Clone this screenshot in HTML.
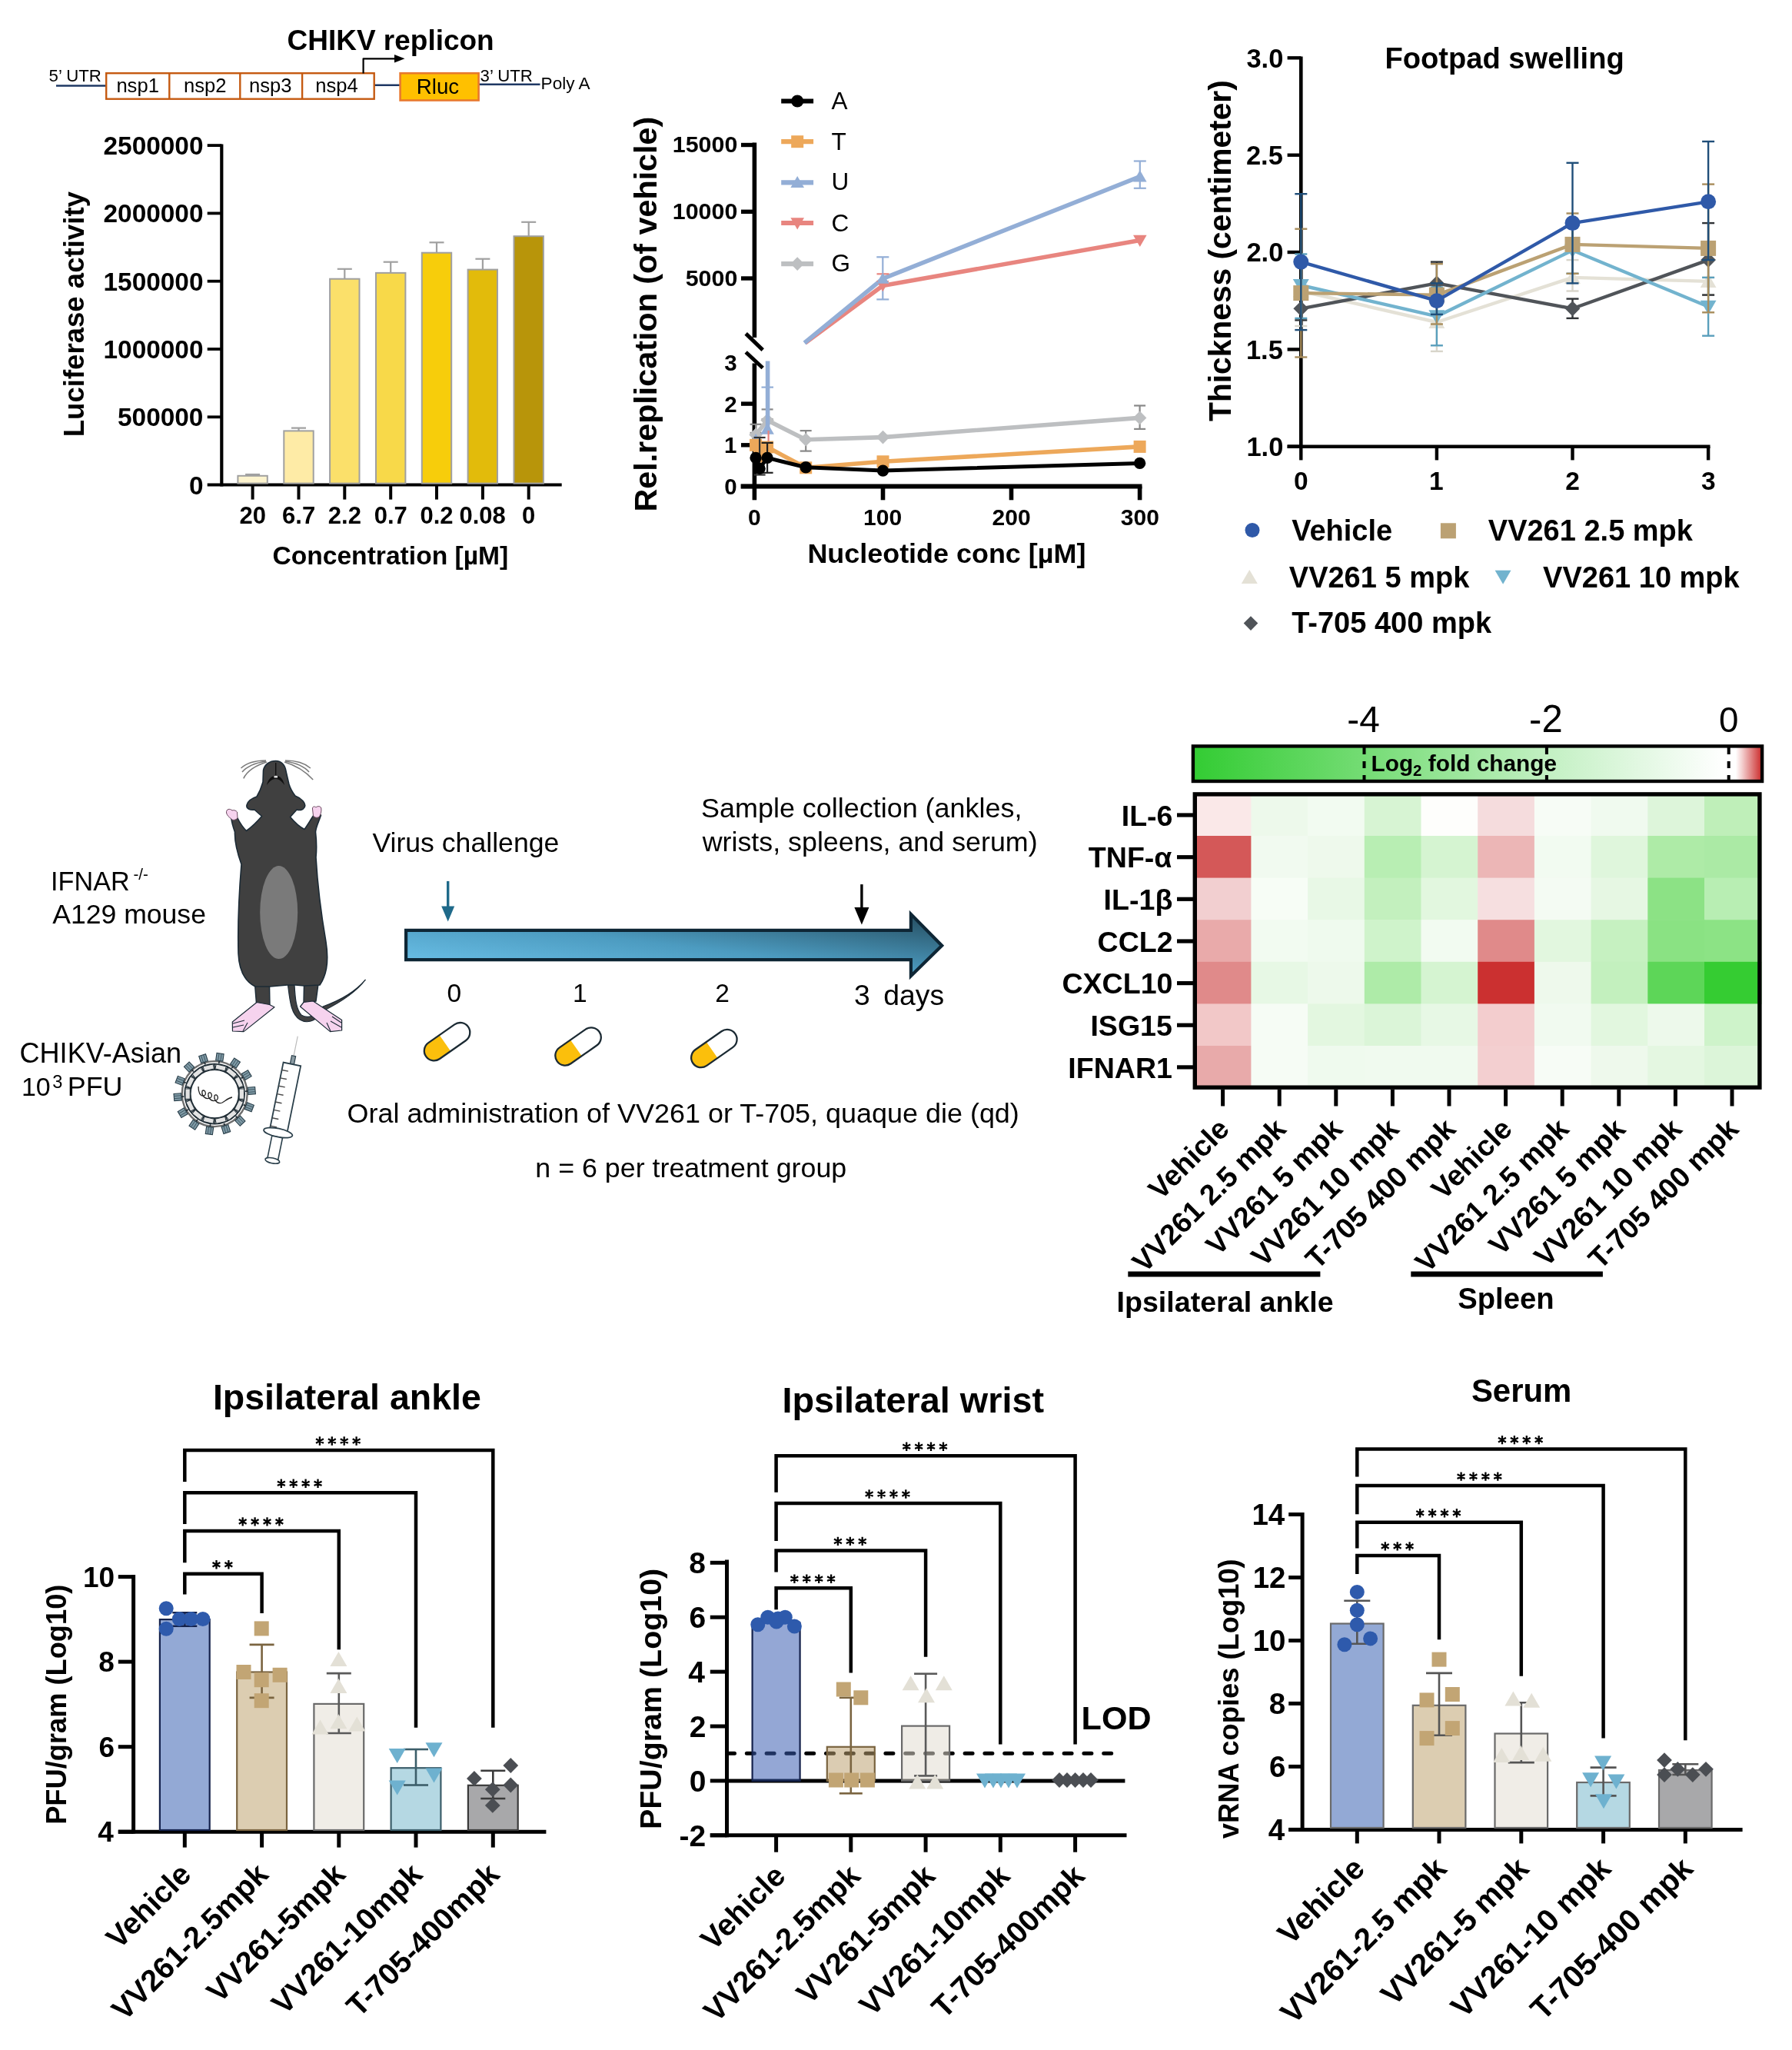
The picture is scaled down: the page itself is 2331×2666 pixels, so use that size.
<!DOCTYPE html>
<html><head><meta charset="utf-8"><title>Figure</title>
<style>
html,body{margin:0;padding:0;background:#fff;}
svg{display:block;will-change:transform;}
text{font-family:"Liberation Sans",sans-serif;}
</style></head><body>
<svg width="2331" height="2666" viewBox="0 0 2331 2666">
<rect width="2331" height="2666" fill="#fff"/>
<text x="373.5" y="64.5" font-size="36.99" font-weight="bold" fill="#000" >CHIKV replicon</text>
<line x1="73" y1="111.5" x2="139" y2="111.5" stroke="#1F3864" stroke-width="2.6" />
<line x1="487" y1="110.8" x2="521" y2="110.8" stroke="#1F3864" stroke-width="2.6" />
<line x1="622" y1="109.7" x2="702.5" y2="109.7" stroke="#1F3864" stroke-width="2.6" />
<rect x="138.2" y="95.2" width="348.5" height="33.5" fill="#fff" stroke="#C55A11" stroke-width="2.4" />
<line x1="220.3" y1="95.2" x2="220.3" y2="128.7" stroke="#C55A11" stroke-width="2.4" />
<line x1="312.3" y1="95.2" x2="312.3" y2="128.7" stroke="#C55A11" stroke-width="2.4" />
<line x1="393.1" y1="95.2" x2="393.1" y2="128.7" stroke="#C55A11" stroke-width="2.4" />
<text x="151.4" y="120.4" font-size="25.6" fill="#000" >nsp1</text>
<text x="239.1" y="120.4" font-size="25.6" fill="#000" >nsp2</text>
<text x="324" y="120.4" font-size="25.6" fill="#000" >nsp3</text>
<text x="410.2" y="120.4" font-size="25.6" fill="#000" >nsp4</text>
<rect x="520.6" y="95.2" width="102" height="35.3" fill="#FFC000" stroke="#E8792E" stroke-width="2.6" />
<text x="541.8" y="121.6" font-size="27.7" fill="#000" >Rluc</text>
<polyline points="472.6,95.5 472.6,76.3 515,76.3" fill="none" stroke="#000" stroke-width="2.2" stroke-linejoin="round" />
<polygon points="513,71 526.5,76.3 513,81.6" fill="#000" stroke="none" stroke-width="0" />
<text x="63.6" y="105.5" font-size="22.2" fill="#000" >5’ UTR</text>
<text x="624.6" y="105.5" font-size="22.2" fill="#000" >3’ UTR</text>
<text x="703.6" y="116.4" font-size="22.6" fill="#000" >Poly A</text>
<line x1="288.3" y1="187.5" x2="288.3" y2="632.5" stroke="#000" stroke-width="4.2" />
<line x1="269.7" y1="630.5" x2="730.7" y2="630.5" stroke="#000" stroke-width="3.9" />
<text x="245.9" y="642.5" font-size="33.4" font-weight="bold" fill="#000" >0</text>
<line x1="269.7" y1="542.3" x2="288.3" y2="542.3" stroke="#000" stroke-width="3.8" />
<text x="153" y="554.2" font-size="33.4" font-weight="bold" fill="#000" >500000</text>
<line x1="269.7" y1="454" x2="288.3" y2="454" stroke="#000" stroke-width="3.8" />
<text x="134.5" y="465.9" font-size="33.4" font-weight="bold" fill="#000" >1000000</text>
<line x1="269.7" y1="365.7" x2="288.3" y2="365.7" stroke="#000" stroke-width="3.8" />
<text x="134.5" y="377.6" font-size="33.4" font-weight="bold" fill="#000" >1500000</text>
<line x1="269.7" y1="277.4" x2="288.3" y2="277.4" stroke="#000" stroke-width="3.8" />
<text x="134.5" y="289.3" font-size="33.4" font-weight="bold" fill="#000" >2000000</text>
<line x1="269.7" y1="189.1" x2="288.3" y2="189.1" stroke="#000" stroke-width="3.8" />
<text x="134.5" y="201" font-size="33.4" font-weight="bold" fill="#000" >2500000</text>
<line x1="328.6" y1="617" x2="328.6" y2="618.8" stroke="#A0A0A0" stroke-width="2.2" />
<line x1="319.1" y1="617" x2="338.1" y2="617" stroke="#A0A0A0" stroke-width="2.2" />
<rect x="309.4" y="618.8" width="38.4" height="9.8" fill="#FDF4CE" stroke="#A0A0A0" stroke-width="2" />
<line x1="328.6" y1="630.5" x2="328.6" y2="649.6" stroke="#000" stroke-width="4" />
<text x="311.5" y="681.4" font-size="31" font-weight="bold" fill="#000" >20</text>
<line x1="388.5" y1="556.6" x2="388.5" y2="560.4" stroke="#A0A0A0" stroke-width="2.2" />
<line x1="379" y1="556.6" x2="398" y2="556.6" stroke="#A0A0A0" stroke-width="2.2" />
<rect x="369.3" y="560.4" width="38.4" height="68.2" fill="#FEEBA6" stroke="#A0A0A0" stroke-width="2" />
<line x1="388.5" y1="630.5" x2="388.5" y2="649.6" stroke="#000" stroke-width="4" />
<text x="367.1" y="681.4" font-size="31" font-weight="bold" fill="#000" >6.7</text>
<line x1="448.3" y1="349.8" x2="448.3" y2="362.7" stroke="#A0A0A0" stroke-width="2.2" />
<line x1="438.8" y1="349.8" x2="457.8" y2="349.8" stroke="#A0A0A0" stroke-width="2.2" />
<rect x="429.1" y="362.7" width="38.4" height="265.9" fill="#FBE06A" stroke="#A0A0A0" stroke-width="2" />
<line x1="448.3" y1="630.5" x2="448.3" y2="649.6" stroke="#000" stroke-width="4" />
<text x="426.8" y="681.4" font-size="31" font-weight="bold" fill="#000" >2.2</text>
<line x1="508.2" y1="340.7" x2="508.2" y2="354.9" stroke="#A0A0A0" stroke-width="2.2" />
<line x1="498.7" y1="340.7" x2="517.7" y2="340.7" stroke="#A0A0A0" stroke-width="2.2" />
<rect x="489" y="354.9" width="38.4" height="273.7" fill="#F8D949" stroke="#A0A0A0" stroke-width="2" />
<line x1="508.2" y1="630.5" x2="508.2" y2="649.6" stroke="#000" stroke-width="4" />
<text x="486.7" y="681.4" font-size="31" font-weight="bold" fill="#000" >0.7</text>
<line x1="568" y1="315.3" x2="568" y2="328.7" stroke="#A0A0A0" stroke-width="2.2" />
<line x1="558.5" y1="315.3" x2="577.5" y2="315.3" stroke="#A0A0A0" stroke-width="2.2" />
<rect x="548.8" y="328.7" width="38.4" height="299.9" fill="#F7CD0B" stroke="#A0A0A0" stroke-width="2" />
<line x1="568" y1="630.5" x2="568" y2="649.6" stroke="#000" stroke-width="4" />
<text x="546.5" y="681.4" font-size="31" font-weight="bold" fill="#000" >0.2</text>
<line x1="627.9" y1="336.7" x2="627.9" y2="350.6" stroke="#A0A0A0" stroke-width="2.2" />
<line x1="618.4" y1="336.7" x2="637.4" y2="336.7" stroke="#A0A0A0" stroke-width="2.2" />
<rect x="608.6" y="350.6" width="38.4" height="278" fill="#E2BB0B" stroke="#A0A0A0" stroke-width="2" />
<line x1="627.9" y1="630.5" x2="627.9" y2="649.6" stroke="#000" stroke-width="4" />
<text x="597.5" y="681.4" font-size="31" font-weight="bold" fill="#000" >0.08</text>
<line x1="687.7" y1="288.8" x2="687.7" y2="307.2" stroke="#A0A0A0" stroke-width="2.2" />
<line x1="678.2" y1="288.8" x2="697.2" y2="288.8" stroke="#A0A0A0" stroke-width="2.2" />
<rect x="668.5" y="307.2" width="38.4" height="321.4" fill="#B8950A" stroke="#A0A0A0" stroke-width="2" />
<line x1="687.7" y1="630.5" x2="687.7" y2="649.6" stroke="#000" stroke-width="4" />
<text x="679.1" y="681.4" font-size="31" font-weight="bold" fill="#000" >0</text>
<text x="354.4" y="734.2" font-size="33.61" font-weight="bold" fill="#000" >Concentration [µM]</text>
<text x="109" y="568.3" font-size="36.58" font-weight="bold" fill="#000" transform="rotate(-90 109 568.3)" >Luciferase activity</text>
<line x1="981.4" y1="185.5" x2="981.4" y2="439" stroke="#000" stroke-width="5.6" />
<line x1="981.4" y1="472.5" x2="981.4" y2="635" stroke="#000" stroke-width="5.6" />
<line x1="970.2" y1="433.9" x2="992.2" y2="455.1" stroke="#000" stroke-width="5" />
<line x1="970.2" y1="458" x2="992.2" y2="478.5" stroke="#000" stroke-width="5" />
<line x1="964" y1="188.5" x2="981.4" y2="188.5" stroke="#000" stroke-width="5.4" />
<text x="874.8" y="198.1" font-size="30.4" font-weight="bold" fill="#000" >15000</text>
<line x1="964" y1="275.3" x2="981.4" y2="275.3" stroke="#000" stroke-width="5.4" />
<text x="874.8" y="284.9" font-size="30.4" font-weight="bold" fill="#000" >10000</text>
<line x1="964" y1="362" x2="981.4" y2="362" stroke="#000" stroke-width="5.4" />
<text x="891.7" y="371.6" font-size="30.4" font-weight="bold" fill="#000" >5000</text>
<text x="942.2" y="481.8" font-size="29.5" font-weight="bold" fill="#000" >3</text>
<line x1="964" y1="525.1" x2="981.4" y2="525.1" stroke="#000" stroke-width="5.4" />
<text x="942.3" y="535.5" font-size="29.5" font-weight="bold" fill="#000" >2</text>
<line x1="964" y1="578.8" x2="981.4" y2="578.8" stroke="#000" stroke-width="5.4" />
<text x="941.9" y="589.2" font-size="29.5" font-weight="bold" fill="#000" >1</text>
<line x1="964" y1="632.5" x2="981.4" y2="632.5" stroke="#000" stroke-width="5.4" />
<text x="942.3" y="642.9" font-size="29.5" font-weight="bold" fill="#000" >0</text>
<line x1="963.6" y1="632.5" x2="1485.5" y2="632.5" stroke="#000" stroke-width="6" />
<line x1="981.4" y1="632.5" x2="981.4" y2="650.3" stroke="#000" stroke-width="5.6" />
<text x="973.1" y="682.7" font-size="30" font-weight="bold" fill="#000" >0</text>
<line x1="1148.5" y1="632.5" x2="1148.5" y2="650.3" stroke="#000" stroke-width="5.6" />
<text x="1123.1" y="682.7" font-size="30" font-weight="bold" fill="#000" >100</text>
<line x1="1315.5" y1="632.5" x2="1315.5" y2="650.3" stroke="#000" stroke-width="5.6" />
<text x="1290.6" y="682.7" font-size="30" font-weight="bold" fill="#000" >200</text>
<line x1="1482.6" y1="632.5" x2="1482.6" y2="650.3" stroke="#000" stroke-width="5.6" />
<text x="1457.8" y="682.7" font-size="30" font-weight="bold" fill="#000" >300</text>
<text x="1050.4" y="732.4" font-size="35.94" font-weight="bold" fill="#000" >Nucleotide conc [µM]</text>
<text x="853.6" y="665.6" font-size="41.29" font-weight="bold" fill="#000" transform="rotate(-90 853.6 665.6)" >Rel.replication (of vehicle)</text>
<line x1="1016.2" y1="131.5" x2="1058.1" y2="131.5" stroke="#000000" stroke-width="6.2" />
<circle cx="1037.2" cy="131.5" r="8" fill="#000000" stroke="none" stroke-width="0" />
<text x="1081.5" y="141.5" font-size="31.5" fill="#000" >A</text>
<line x1="1016.2" y1="184.2" x2="1058.1" y2="184.2" stroke="#EDA85A" stroke-width="6.2" />
<rect x="1029.2" y="176.2" width="16" height="16" fill="#EDA85A" stroke="none" stroke-width="0" />
<text x="1081.5" y="194.6" font-size="31.5" fill="#000" >T</text>
<line x1="1016.2" y1="237.3" x2="1058.1" y2="237.3" stroke="#93AED6" stroke-width="6.2" />
<polygon points="1037.2,228.9 1046,244.1 1028.4,244.1" fill="#93AED6" stroke="none" stroke-width="0" />
<text x="1081.5" y="247.3" font-size="31.5" fill="#000" >U</text>
<line x1="1016.2" y1="290" x2="1058.1" y2="290" stroke="#E8857F" stroke-width="6.2" />
<polygon points="1037.2,298.4 1046,283.2 1028.4,283.2" fill="#E8857F" stroke="none" stroke-width="0" />
<text x="1081.5" y="300.9" font-size="31.5" fill="#000" >C</text>
<line x1="1016.2" y1="343.1" x2="1058.1" y2="343.1" stroke="#BDBFC1" stroke-width="6.2" />
<polygon points="1037.2,334.3 1046,343.1 1037.2,351.9 1028.4,343.1" fill="#BDBFC1" stroke="none" stroke-width="0" />
<text x="1081.5" y="352.8" font-size="31.5" fill="#000" >G</text>
<polyline points="1047.4,446 1148.3,371.4 1482.8,312.6" fill="none" stroke="#E8857F" stroke-width="5.6" stroke-linejoin="round" />
<polyline points="1046.4,446 1148.3,362.3 1482.8,229.7" fill="none" stroke="#93AED6" stroke-width="5.6" stroke-linejoin="round" />
<line x1="1148.3" y1="334.3" x2="1148.3" y2="389.4" stroke="#93AED6" stroke-width="2.2" />
<line x1="1140.3" y1="334.3" x2="1156.3" y2="334.3" stroke="#93AED6" stroke-width="2.2" />
<line x1="1140.3" y1="389.4" x2="1156.3" y2="389.4" stroke="#93AED6" stroke-width="2.2" />
<line x1="1140.5" y1="356.3" x2="1156.5" y2="356.3" stroke="#E8857F" stroke-width="2.2" />
<line x1="1482.8" y1="209.5" x2="1482.8" y2="244.8" stroke="#93AED6" stroke-width="2.2" />
<line x1="1474.8" y1="209.5" x2="1490.8" y2="209.5" stroke="#93AED6" stroke-width="2.2" />
<line x1="1474.8" y1="244.8" x2="1490.8" y2="244.8" stroke="#93AED6" stroke-width="2.2" />
<polygon points="1148.3,379.3 1156.5,365 1140,365" fill="#E8857F" stroke="none" stroke-width="0" />
<polygon points="1148.3,354.4 1156.5,368.7 1140,368.7" fill="#93AED6" stroke="none" stroke-width="0" />
<polygon points="1482.8,321 1491.6,305.8 1474,305.8" fill="#E8857F" stroke="none" stroke-width="0" />
<polygon points="1482.8,221.3 1491.6,236.5 1474,236.5" fill="#93AED6" stroke="none" stroke-width="0" />
<line x1="983.1" y1="551.8" x2="983.1" y2="562.9" stroke="#888" stroke-width="2.2" />
<line x1="975.6" y1="551.8" x2="990.6" y2="551.8" stroke="#888" stroke-width="2.2" />
<line x1="975.6" y1="562.9" x2="990.6" y2="562.9" stroke="#888" stroke-width="2.2" />
<line x1="998.1" y1="532.4" x2="998.1" y2="545" stroke="#888" stroke-width="2.2" />
<line x1="990.6" y1="532.4" x2="1005.6" y2="532.4" stroke="#888" stroke-width="2.2" />
<line x1="990.6" y1="545" x2="1005.6" y2="545" stroke="#888" stroke-width="2.2" />
<line x1="1048.2" y1="560.1" x2="1048.2" y2="586.6" stroke="#888" stroke-width="2.2" />
<line x1="1040.7" y1="560.1" x2="1055.7" y2="560.1" stroke="#888" stroke-width="2.2" />
<line x1="1040.7" y1="586.6" x2="1055.7" y2="586.6" stroke="#888" stroke-width="2.2" />
<line x1="1482.6" y1="527.5" x2="1482.6" y2="557.9" stroke="#888" stroke-width="2.2" />
<line x1="1475.1" y1="527.5" x2="1490.1" y2="527.5" stroke="#888" stroke-width="2.2" />
<line x1="1475.1" y1="557.9" x2="1490.1" y2="557.9" stroke="#888" stroke-width="2.2" />
<polyline points="983.1,565.4 998.1,546.6 1048.2,571.8 1148.5,568.6 1482.6,543.4" fill="none" stroke="#BDBFC1" stroke-width="5.6" stroke-linejoin="round" />
<polygon points="983.1,556.6 991.9,565.4 983.1,574.2 974.3,565.4" fill="#BDBFC1" stroke="none" stroke-width="0" />
<polygon points="998.1,537.8 1006.9,546.6 998.1,555.4 989.3,546.6" fill="#BDBFC1" stroke="none" stroke-width="0" />
<polygon points="1048.2,563 1057,571.8 1048.2,580.6 1039.4,571.8" fill="#BDBFC1" stroke="none" stroke-width="0" />
<polygon points="1148.5,559.8 1157.3,568.6 1148.5,577.4 1139.7,568.6" fill="#BDBFC1" stroke="none" stroke-width="0" />
<polygon points="1482.6,534.6 1491.4,543.4 1482.6,552.2 1473.8,543.4" fill="#BDBFC1" stroke="none" stroke-width="0" />
<line x1="998.6" y1="469.5" x2="998.6" y2="558" stroke="#93AED6" stroke-width="5.6" />
<line x1="990.5" y1="503.6" x2="1006" y2="503.6" stroke="#93AED6" stroke-width="2.2" />
<polygon points="998.1,549.5 1006.9,564.7 989.3,564.7" fill="#93AED6" stroke="none" stroke-width="0" />
<polygon points="983.1,564.1 991.3,578.4 974.8,578.4" fill="#93AED6" stroke="none" stroke-width="0" />
<line x1="999.6" y1="560" x2="999.6" y2="600" stroke="#E8857F" stroke-width="2.2" />
<polyline points="983.1,578.8 988.1,593.8 998.1,581.5 1048.2,608.3 1148.5,600.3 1482.6,580.9" fill="none" stroke="#EDA85A" stroke-width="5.6" stroke-linejoin="round" />
<rect x="975.1" y="570.8" width="16" height="16" fill="#EDA85A" stroke="none" stroke-width="0" />
<rect x="980.1" y="585.8" width="16" height="16" fill="#EDA85A" stroke="none" stroke-width="0" />
<rect x="990.1" y="573.5" width="16" height="16" fill="#EDA85A" stroke="none" stroke-width="0" />
<rect x="1040.2" y="600.3" width="16" height="16" fill="#EDA85A" stroke="none" stroke-width="0" />
<rect x="1140.5" y="592.3" width="16" height="16" fill="#EDA85A" stroke="none" stroke-width="0" />
<rect x="1474.6" y="572.9" width="16" height="16" fill="#EDA85A" stroke="none" stroke-width="0" />
<line x1="998.1" y1="575.9" x2="998.1" y2="614.8" stroke="#222" stroke-width="2.2" />
<line x1="990.6" y1="575.9" x2="1005.6" y2="575.9" stroke="#222" stroke-width="2.2" />
<line x1="990.6" y1="614.8" x2="1005.6" y2="614.8" stroke="#222" stroke-width="2.2" />
<line x1="988.1" y1="569" x2="988.1" y2="617.5" stroke="#333" stroke-width="2.2" />
<line x1="980.6" y1="569" x2="995.6" y2="569" stroke="#333" stroke-width="2.2" />
<line x1="980.6" y1="617.5" x2="995.6" y2="617.5" stroke="#333" stroke-width="2.2" />
<polyline points="983.1,595.4 988.1,609.4 998.1,595.4 1048.2,607.8 1148.5,612.1 1482.6,602.4" fill="none" stroke="#000" stroke-width="5" stroke-linejoin="round" />
<circle cx="983.1" cy="595.4" r="7.7" fill="#000" stroke="none" stroke-width="0" />
<circle cx="988.1" cy="609.4" r="7.7" fill="#000" stroke="none" stroke-width="0" />
<circle cx="998.1" cy="595.4" r="7.7" fill="#000" stroke="none" stroke-width="0" />
<circle cx="1048.2" cy="607.8" r="7.7" fill="#000" stroke="none" stroke-width="0" />
<circle cx="1148.5" cy="612.1" r="7.7" fill="#000" stroke="none" stroke-width="0" />
<circle cx="1482.6" cy="602.4" r="7.7" fill="#000" stroke="none" stroke-width="0" />
<line x1="1692.3" y1="73.5" x2="1692.3" y2="582.7" stroke="#000" stroke-width="4.6" />
<line x1="1674.6" y1="580.7" x2="2224.5" y2="580.7" stroke="#000" stroke-width="4.6" />
<line x1="1674.6" y1="580.7" x2="1692.3" y2="580.7" stroke="#000" stroke-width="4.4" />
<text x="1621.4" y="592.9" font-size="34.5" font-weight="bold" fill="#000" >1.0</text>
<line x1="1674.6" y1="454.4" x2="1692.3" y2="454.4" stroke="#000" stroke-width="4.4" />
<text x="1620.9" y="466.6" font-size="34.5" font-weight="bold" fill="#000" >1.5</text>
<line x1="1674.6" y1="328" x2="1692.3" y2="328" stroke="#000" stroke-width="4.4" />
<text x="1621.4" y="340.2" font-size="34.5" font-weight="bold" fill="#000" >2.0</text>
<line x1="1674.6" y1="201.7" x2="1692.3" y2="201.7" stroke="#000" stroke-width="4.4" />
<text x="1620.9" y="213.9" font-size="34.5" font-weight="bold" fill="#000" >2.5</text>
<line x1="1674.6" y1="75.3" x2="1692.3" y2="75.3" stroke="#000" stroke-width="4.4" />
<text x="1621.4" y="87.5" font-size="34.5" font-weight="bold" fill="#000" >3.0</text>
<line x1="1692.3" y1="580.7" x2="1692.3" y2="598.4" stroke="#000" stroke-width="4.4" />
<text x="1683" y="636.8" font-size="33.5" font-weight="bold" fill="#000" >0</text>
<line x1="1868.9" y1="580.7" x2="1868.9" y2="598.4" stroke="#000" stroke-width="4.4" />
<text x="1858.9" y="636.8" font-size="33.5" font-weight="bold" fill="#000" >1</text>
<line x1="2045.5" y1="580.7" x2="2045.5" y2="598.4" stroke="#000" stroke-width="4.4" />
<text x="2036.3" y="636.8" font-size="33.5" font-weight="bold" fill="#000" >2</text>
<line x1="2222.1" y1="580.7" x2="2222.1" y2="598.4" stroke="#000" stroke-width="4.4" />
<text x="2213" y="636.8" font-size="33.5" font-weight="bold" fill="#000" >3</text>
<text x="1801.5" y="89.4" font-size="38.12" font-weight="bold" fill="#000" >Footpad swelling</text>
<text x="1600.5" y="548" font-size="40.74" font-weight="bold" fill="#000" transform="rotate(-90 1600.5 548)" >Thickness (centimeter)</text>
<line x1="1692.3" y1="424" x2="1692.3" y2="335.6" stroke="#D8D5CA" stroke-width="2.4" />
<line x1="1684.3" y1="424" x2="1700.3" y2="424" stroke="#D8D5CA" stroke-width="2.4" />
<line x1="1684.3" y1="335.6" x2="1700.3" y2="335.6" stroke="#D8D5CA" stroke-width="2.4" />
<line x1="1868.9" y1="456.9" x2="1868.9" y2="381.1" stroke="#D8D5CA" stroke-width="2.4" />
<line x1="1860.9" y1="456.9" x2="1876.9" y2="456.9" stroke="#D8D5CA" stroke-width="2.4" />
<line x1="1860.9" y1="381.1" x2="1876.9" y2="381.1" stroke="#D8D5CA" stroke-width="2.4" />
<line x1="2045.5" y1="378.5" x2="2045.5" y2="338.1" stroke="#D8D5CA" stroke-width="2.4" />
<line x1="2037.5" y1="378.5" x2="2053.5" y2="378.5" stroke="#D8D5CA" stroke-width="2.4" />
<line x1="2037.5" y1="338.1" x2="2053.5" y2="338.1" stroke="#D8D5CA" stroke-width="2.4" />
<line x1="2222.1" y1="383.6" x2="2222.1" y2="360.9" stroke="#D8D5CA" stroke-width="2.4" />
<line x1="2214.1" y1="383.6" x2="2230.1" y2="383.6" stroke="#D8D5CA" stroke-width="2.4" />
<line x1="2214.1" y1="360.9" x2="2230.1" y2="360.9" stroke="#D8D5CA" stroke-width="2.4" />
<polyline points="1692.3,378.5 1868.9,419 2045.5,360.9 2222.1,365.9" fill="none" stroke="#E4E1D6" stroke-width="4.4" stroke-linejoin="round" />
<polygon points="1692.3,368.6 1702.8,386.6 1681.8,386.6" fill="#E4E1D6" stroke="none" stroke-width="0" />
<polygon points="1868.9,409 1879.3,427 1858.4,427" fill="#E4E1D6" stroke="none" stroke-width="0" />
<polygon points="2045.5,350.9 2055.9,368.9 2035,368.9" fill="#E4E1D6" stroke="none" stroke-width="0" />
<polygon points="2222.1,355.9 2232.5,374 2211.7,374" fill="#E4E1D6" stroke="none" stroke-width="0" />
<line x1="1692.3" y1="416.4" x2="1692.3" y2="386.1" stroke="#303336" stroke-width="2.4" />
<line x1="1684.3" y1="416.4" x2="1700.3" y2="416.4" stroke="#303336" stroke-width="2.4" />
<line x1="1684.3" y1="386.1" x2="1700.3" y2="386.1" stroke="#303336" stroke-width="2.4" />
<line x1="1868.9" y1="396.2" x2="1868.9" y2="340.6" stroke="#303336" stroke-width="2.4" />
<line x1="1860.9" y1="396.2" x2="1876.9" y2="396.2" stroke="#303336" stroke-width="2.4" />
<line x1="1860.9" y1="340.6" x2="1876.9" y2="340.6" stroke="#303336" stroke-width="2.4" />
<line x1="2045.5" y1="413.9" x2="2045.5" y2="388.6" stroke="#303336" stroke-width="2.4" />
<line x1="2037.5" y1="413.9" x2="2053.5" y2="413.9" stroke="#303336" stroke-width="2.4" />
<line x1="2037.5" y1="388.6" x2="2053.5" y2="388.6" stroke="#303336" stroke-width="2.4" />
<line x1="2222.1" y1="383.6" x2="2222.1" y2="290.1" stroke="#303336" stroke-width="2.4" />
<line x1="2214.1" y1="383.6" x2="2230.1" y2="383.6" stroke="#303336" stroke-width="2.4" />
<line x1="2214.1" y1="290.1" x2="2230.1" y2="290.1" stroke="#303336" stroke-width="2.4" />
<polyline points="1692.3,401.3 1868.9,368.4 2045.5,401.3 2222.1,338.1" fill="none" stroke="#505459" stroke-width="4.4" stroke-linejoin="round" />
<polygon points="1692.3,391.4 1702.2,401.3 1692.3,411.2 1682.4,401.3" fill="#505459" stroke="none" stroke-width="0" />
<polygon points="1868.9,358.5 1878.8,368.4 1868.9,378.3 1859,368.4" fill="#505459" stroke="none" stroke-width="0" />
<polygon points="2045.5,391.4 2055.4,401.3 2045.5,411.2 2035.6,401.3" fill="#505459" stroke="none" stroke-width="0" />
<polygon points="2222.1,328.2 2232,338.1 2222.1,348 2212.2,338.1" fill="#505459" stroke="none" stroke-width="0" />
<line x1="1692.3" y1="413.9" x2="1692.3" y2="330.5" stroke="#5A9FBC" stroke-width="2.4" />
<line x1="1684.3" y1="413.9" x2="1700.3" y2="413.9" stroke="#5A9FBC" stroke-width="2.4" />
<line x1="1684.3" y1="330.5" x2="1700.3" y2="330.5" stroke="#5A9FBC" stroke-width="2.4" />
<line x1="1868.9" y1="449.3" x2="1868.9" y2="373.5" stroke="#5A9FBC" stroke-width="2.4" />
<line x1="1860.9" y1="449.3" x2="1876.9" y2="449.3" stroke="#5A9FBC" stroke-width="2.4" />
<line x1="1860.9" y1="373.5" x2="1876.9" y2="373.5" stroke="#5A9FBC" stroke-width="2.4" />
<line x1="2045.5" y1="355.8" x2="2045.5" y2="295.1" stroke="#5A9FBC" stroke-width="2.4" />
<line x1="2037.5" y1="355.8" x2="2053.5" y2="355.8" stroke="#5A9FBC" stroke-width="2.4" />
<line x1="2037.5" y1="295.1" x2="2053.5" y2="295.1" stroke="#5A9FBC" stroke-width="2.4" />
<line x1="2222.1" y1="436.7" x2="2222.1" y2="360.9" stroke="#5A9FBC" stroke-width="2.4" />
<line x1="2214.1" y1="436.7" x2="2230.1" y2="436.7" stroke="#5A9FBC" stroke-width="2.4" />
<line x1="2214.1" y1="360.9" x2="2230.1" y2="360.9" stroke="#5A9FBC" stroke-width="2.4" />
<polyline points="1692.3,371 1868.9,411.4 2045.5,325.5 2222.1,398.8" fill="none" stroke="#72B3CE" stroke-width="4.4" stroke-linejoin="round" />
<polygon points="1692.3,380.9 1702.8,362.9 1681.8,362.9" fill="#72B3CE" stroke="none" stroke-width="0" />
<polygon points="1868.9,421.4 1879.3,403.3 1858.4,403.3" fill="#72B3CE" stroke="none" stroke-width="0" />
<polygon points="2045.5,335.4 2055.9,317.4 2035,317.4" fill="#72B3CE" stroke="none" stroke-width="0" />
<polygon points="2222.1,408.7 2232.5,390.7 2211.7,390.7" fill="#72B3CE" stroke="none" stroke-width="0" />
<line x1="1692.3" y1="464.5" x2="1692.3" y2="297.7" stroke="#A88D5C" stroke-width="2.4" />
<line x1="1684.3" y1="464.5" x2="1700.3" y2="464.5" stroke="#A88D5C" stroke-width="2.4" />
<line x1="1684.3" y1="297.7" x2="1700.3" y2="297.7" stroke="#A88D5C" stroke-width="2.4" />
<line x1="1868.9" y1="421.5" x2="1868.9" y2="343.2" stroke="#A88D5C" stroke-width="2.4" />
<line x1="1860.9" y1="421.5" x2="1876.9" y2="421.5" stroke="#A88D5C" stroke-width="2.4" />
<line x1="1860.9" y1="343.2" x2="1876.9" y2="343.2" stroke="#A88D5C" stroke-width="2.4" />
<line x1="2045.5" y1="355.8" x2="2045.5" y2="277.5" stroke="#A88D5C" stroke-width="2.4" />
<line x1="2037.5" y1="355.8" x2="2053.5" y2="355.8" stroke="#A88D5C" stroke-width="2.4" />
<line x1="2037.5" y1="277.5" x2="2053.5" y2="277.5" stroke="#A88D5C" stroke-width="2.4" />
<line x1="2222.1" y1="406.3" x2="2222.1" y2="239.6" stroke="#A88D5C" stroke-width="2.4" />
<line x1="2214.1" y1="406.3" x2="2230.1" y2="406.3" stroke="#A88D5C" stroke-width="2.4" />
<line x1="2214.1" y1="239.6" x2="2230.1" y2="239.6" stroke="#A88D5C" stroke-width="2.4" />
<polyline points="1692.3,381.1 1868.9,383.6 2045.5,317.9 2222.1,322.9" fill="none" stroke="#BBA173" stroke-width="4.4" stroke-linejoin="round" />
<rect x="1682.3" y="371.1" width="20" height="20" fill="#BBA173" stroke="none" stroke-width="0" />
<rect x="1858.9" y="373.6" width="20" height="20" fill="#BBA173" stroke="none" stroke-width="0" />
<rect x="2035.5" y="307.9" width="20" height="20" fill="#BBA173" stroke="none" stroke-width="0" />
<rect x="2212.1" y="312.9" width="20" height="20" fill="#BBA173" stroke="none" stroke-width="0" />
<line x1="1692.3" y1="429.1" x2="1692.3" y2="252.2" stroke="#1F4E79" stroke-width="2.4" />
<line x1="1684.3" y1="429.1" x2="1700.3" y2="429.1" stroke="#1F4E79" stroke-width="2.4" />
<line x1="1684.3" y1="252.2" x2="1700.3" y2="252.2" stroke="#1F4E79" stroke-width="2.4" />
<line x1="1868.9" y1="408.9" x2="1868.9" y2="368.4" stroke="#1F4E79" stroke-width="2.4" />
<line x1="1860.9" y1="408.9" x2="1876.9" y2="408.9" stroke="#1F4E79" stroke-width="2.4" />
<line x1="1860.9" y1="368.4" x2="1876.9" y2="368.4" stroke="#1F4E79" stroke-width="2.4" />
<line x1="2045.5" y1="368.4" x2="2045.5" y2="211.8" stroke="#1F4E79" stroke-width="2.4" />
<line x1="2037.5" y1="368.4" x2="2053.5" y2="368.4" stroke="#1F4E79" stroke-width="2.4" />
<line x1="2037.5" y1="211.8" x2="2053.5" y2="211.8" stroke="#1F4E79" stroke-width="2.4" />
<line x1="2222.1" y1="338.1" x2="2222.1" y2="184" stroke="#1F4E79" stroke-width="2.4" />
<line x1="2214.1" y1="338.1" x2="2230.1" y2="338.1" stroke="#1F4E79" stroke-width="2.4" />
<line x1="2214.1" y1="184" x2="2230.1" y2="184" stroke="#1F4E79" stroke-width="2.4" />
<polyline points="1692.3,340.6 1868.9,391.2 2045.5,290.1 2222.1,262.3" fill="none" stroke="#2F59A8" stroke-width="4.4" stroke-linejoin="round" />
<circle cx="1692.3" cy="340.6" r="10" fill="#2F59A8" stroke="none" stroke-width="0" />
<circle cx="1868.9" cy="391.2" r="10" fill="#2F59A8" stroke="none" stroke-width="0" />
<circle cx="2045.5" cy="290.1" r="10" fill="#2F59A8" stroke="none" stroke-width="0" />
<circle cx="2222.1" cy="262.3" r="10" fill="#2F59A8" stroke="none" stroke-width="0" />
<circle cx="1629" cy="689.5" r="9.5" fill="#2F59A8" stroke="none" stroke-width="0" />
<text x="1680.2" y="702.9" font-size="38" font-weight="bold" fill="#000" >Vehicle</text>
<rect x="1873.9" y="680.3" width="20" height="20" fill="#BBA173" stroke="none" stroke-width="0" />
<text x="1935.8" y="702.9" font-size="38" font-weight="bold" fill="#000" >VV261 2.5 mpk</text>
<polygon points="1625.3,741 1635.8,759.1 1614.8,759.1" fill="#E4E1D6" stroke="none" stroke-width="0" />
<text x="1676.8" y="763.6" font-size="38" font-weight="bold" fill="#000" >VV261 5 mpk</text>
<polygon points="1955.1,759.8 1965.5,741.7 1944.6,741.7" fill="#72B3CE" stroke="none" stroke-width="0" />
<text x="2007.1" y="763.6" font-size="38" font-weight="bold" fill="#000" >VV261 10 mpk</text>
<polygon points="1627,801.2 1636.3,810.6 1627,820 1617.7,810.6" fill="#505459" stroke="none" stroke-width="0" />
<text x="1680.2" y="823.2" font-size="38" font-weight="bold" fill="#000" >T-705 400 mpk</text>
<path d="M374.5,1281 C377,1300 378,1318 390,1326 C398,1331 410,1330 420,1315 C440,1305 462,1292 475.5,1274 C462,1290 440,1302 420,1309 C412,1322 400,1325 392,1320 C385,1312 384,1298 383,1281 Z" fill="#404040" stroke="#1B2A35" stroke-width="1.2"/>
<path d="M331.5,1280 L333.5,1305 L351,1307 L350.5,1280 Z" fill="#404040" stroke="#1B2A35" stroke-width="1.4"/>
<path d="M395.5,1280 L395,1304 L411,1302 L414,1280 Z" fill="#404040" stroke="#1B2A35" stroke-width="1.4"/>
<path d="M358.7,989.5 C366,989.5 371,995 372,1003 L376,1020 C378,1027 381,1031 384,1035 C392,1038 399,1045 396,1050 C394,1054 389,1054 386,1053 L377.5,1062.5 C383,1069 389,1075 396,1078.5 C400,1073 404,1066 407.5,1061 L417.5,1060 C415,1068 411,1075 410.5,1082 C412,1095 412,1105 411,1115 C413,1150 418,1190 424,1225 C428,1250 425,1268 416,1281 L396,1282 L384,1281 L374,1281 L351,1283 L332,1283 C318,1276 311,1262 310,1240 C309,1200 311,1160 314,1124 C309,1110 305,1095 305.5,1082 C303,1075 301.5,1070 301,1065 L309,1064 C312,1070 316,1076 320.5,1080.5 C328,1075 335,1068 340.5,1061.5 L331,1053 C326,1054 320,1052 321,1047 C322,1042 328,1038 334,1036 C337,1031 340,1024 342,1017 L342.5,1002 C344,994 351,989.5 358.7,989.5 Z" fill="#404040" stroke="#1B2A35" stroke-width="1.6" stroke-linejoin="round"/>
<ellipse cx="362.7" cy="1186.6" rx="24.5" ry="60.5" fill="#7A7A7A"/>
<path d="M358.7,992 L358.7,1008" stroke="#111" stroke-width="1.4"/>
<path d="M347,1021 C349,1012 354,1009 358.7,1009 C364,1009 368,1012 370,1021 C366,1015 362,1013 358.7,1013 C355,1013 351,1015 347,1021 Z" fill="#111"/>
<rect x="356.5" y="1009" width="4.5" height="2.5" fill="#ddd"/>
<path d="M346,989 C334,989 321,992 313.5,999" fill="none" stroke="#7A7A7A" stroke-width="1.5"/>
<path d="M346,990 C333,992 321,997 315,1004" fill="none" stroke="#7A7A7A" stroke-width="1.5"/>
<path d="M347,991 C333,995 321,1003 316.8,1012.4" fill="none" stroke="#7A7A7A" stroke-width="1.5"/>
<path d="M371,989 C383,989 396,992 403.9,999" fill="none" stroke="#7A7A7A" stroke-width="1.5"/>
<path d="M371,990 C384,992 396,997 402,1004" fill="none" stroke="#7A7A7A" stroke-width="1.5"/>
<path d="M370,991 C384,995 398,1004 407.2,1014" fill="none" stroke="#7A7A7A" stroke-width="1.5"/>
<path d="M294.5,1057 C294,1052 299,1051 302,1054 C304,1053 307,1054 308.5,1056 L309,1064 C306,1067 302,1067 301,1065 C298,1063 295,1060 294.5,1057 Z" fill="#F6D3EE" stroke="#6B4A60" stroke-width="1"/>
<path d="M406.5,1052 C406,1049 409,1048 411,1050 C413,1048 417,1048 417.8,1051 C418.5,1055 417,1060 415,1062.5 C412,1064 409,1063 407.5,1061 Z" fill="#F6D3EE" stroke="#6B4A60" stroke-width="1"/>
<path d="M334,1303.5 L350.5,1306.5 L357,1309.8 L317,1341.6 L302.5,1341 L302.3,1329 Z" fill="#F6D3EE" stroke="#1B2A35" stroke-width="1.2" stroke-linejoin="round"/>
<path d="M395,1303.5 L407,1301.8 L444.6,1326.4 L444.6,1340 L429.5,1341.6 L390.5,1309 Z" fill="#F6D3EE" stroke="#1B2A35" stroke-width="1.2" stroke-linejoin="round"/>
<path d="M303,1331 L318,1327" stroke="#1B2A35" stroke-width="1.1"/>
<path d="M303,1336 L317,1333" stroke="#1B2A35" stroke-width="1.1"/>
<path d="M316,1341 L322,1330" stroke="#1B2A35" stroke-width="1.1"/>
<path d="M444,1330 L432,1322" stroke="#1B2A35" stroke-width="1.1"/>
<path d="M444,1336 L430,1328" stroke="#1B2A35" stroke-width="1.1"/>
<path d="M430,1341 L425,1330" stroke="#1B2A35" stroke-width="1.1"/>
<text x="66.1" y="1157.5" font-size="34.2" fill="#000" >IFNAR</text>
<text x="173.5" y="1143.5" font-size="20.5" fill="#000" >-/-</text>
<text x="68.2" y="1200.5" font-size="35.6" fill="#000" >A129 mouse</text>
<text x="25.5" y="1381.9" font-size="36.1" fill="#000" >CHIKV-Asian</text>
<text x="27.9" y="1424.7" font-size="33.97" fill="#000" >10</text>
<text x="68.2" y="1414.9" font-size="23.62" fill="#000" >3</text>
<text x="87.7" y="1424.7" font-size="35.93" fill="#000" >PFU</text>
<circle cx="279.2" cy="1422.6" r="42.5" fill="none" stroke="#6E6E6E" stroke-width="2.4"/>
<circle cx="279.2" cy="1422.6" r="39.0" fill="none" stroke="#1E2B33" stroke-width="1.6"/>
<circle cx="279.2" cy="1422.6" r="31.5" fill="#fff" stroke="#1E2B33" stroke-width="1.8"/>
<rect x="-6.6" y="-38.2" width="13.2" height="6.2" fill="#E3E3E3" stroke="#1E2B33" stroke-width="0.9" transform="translate(279.2 1422.6) rotate(12.9)"/>
<line x1="0" y1="-31.5" x2="0" y2="-39" stroke="#1E2B33" stroke-width="1.6" transform="translate(279.2 1422.6) rotate(25.7)"/>
<rect x="-6.6" y="-38.2" width="13.2" height="6.2" fill="#E3E3E3" stroke="#1E2B33" stroke-width="0.9" transform="translate(279.2 1422.6) rotate(38.6)"/>
<line x1="0" y1="-31.5" x2="0" y2="-39" stroke="#1E2B33" stroke-width="1.6" transform="translate(279.2 1422.6) rotate(51.4)"/>
<rect x="-6.6" y="-38.2" width="13.2" height="6.2" fill="#E3E3E3" stroke="#1E2B33" stroke-width="0.9" transform="translate(279.2 1422.6) rotate(64.3)"/>
<line x1="0" y1="-31.5" x2="0" y2="-39" stroke="#1E2B33" stroke-width="1.6" transform="translate(279.2 1422.6) rotate(77.1)"/>
<rect x="-6.6" y="-38.2" width="13.2" height="6.2" fill="#E3E3E3" stroke="#1E2B33" stroke-width="0.9" transform="translate(279.2 1422.6) rotate(90)"/>
<line x1="0" y1="-31.5" x2="0" y2="-39" stroke="#1E2B33" stroke-width="1.6" transform="translate(279.2 1422.6) rotate(102.9)"/>
<rect x="-6.6" y="-38.2" width="13.2" height="6.2" fill="#E3E3E3" stroke="#1E2B33" stroke-width="0.9" transform="translate(279.2 1422.6) rotate(115.7)"/>
<line x1="0" y1="-31.5" x2="0" y2="-39" stroke="#1E2B33" stroke-width="1.6" transform="translate(279.2 1422.6) rotate(128.6)"/>
<rect x="-6.6" y="-38.2" width="13.2" height="6.2" fill="#E3E3E3" stroke="#1E2B33" stroke-width="0.9" transform="translate(279.2 1422.6) rotate(141.4)"/>
<line x1="0" y1="-31.5" x2="0" y2="-39" stroke="#1E2B33" stroke-width="1.6" transform="translate(279.2 1422.6) rotate(154.3)"/>
<rect x="-6.6" y="-38.2" width="13.2" height="6.2" fill="#E3E3E3" stroke="#1E2B33" stroke-width="0.9" transform="translate(279.2 1422.6) rotate(167.1)"/>
<line x1="0" y1="-31.5" x2="0" y2="-39" stroke="#1E2B33" stroke-width="1.6" transform="translate(279.2 1422.6) rotate(180)"/>
<rect x="-6.6" y="-38.2" width="13.2" height="6.2" fill="#E3E3E3" stroke="#1E2B33" stroke-width="0.9" transform="translate(279.2 1422.6) rotate(192.9)"/>
<line x1="0" y1="-31.5" x2="0" y2="-39" stroke="#1E2B33" stroke-width="1.6" transform="translate(279.2 1422.6) rotate(205.7)"/>
<rect x="-6.6" y="-38.2" width="13.2" height="6.2" fill="#E3E3E3" stroke="#1E2B33" stroke-width="0.9" transform="translate(279.2 1422.6) rotate(218.6)"/>
<line x1="0" y1="-31.5" x2="0" y2="-39" stroke="#1E2B33" stroke-width="1.6" transform="translate(279.2 1422.6) rotate(231.4)"/>
<rect x="-6.6" y="-38.2" width="13.2" height="6.2" fill="#E3E3E3" stroke="#1E2B33" stroke-width="0.9" transform="translate(279.2 1422.6) rotate(244.3)"/>
<line x1="0" y1="-31.5" x2="0" y2="-39" stroke="#1E2B33" stroke-width="1.6" transform="translate(279.2 1422.6) rotate(257.1)"/>
<rect x="-6.6" y="-38.2" width="13.2" height="6.2" fill="#E3E3E3" stroke="#1E2B33" stroke-width="0.9" transform="translate(279.2 1422.6) rotate(270)"/>
<line x1="0" y1="-31.5" x2="0" y2="-39" stroke="#1E2B33" stroke-width="1.6" transform="translate(279.2 1422.6) rotate(282.9)"/>
<rect x="-6.6" y="-38.2" width="13.2" height="6.2" fill="#E3E3E3" stroke="#1E2B33" stroke-width="0.9" transform="translate(279.2 1422.6) rotate(295.7)"/>
<line x1="0" y1="-31.5" x2="0" y2="-39" stroke="#1E2B33" stroke-width="1.6" transform="translate(279.2 1422.6) rotate(308.6)"/>
<rect x="-6.6" y="-38.2" width="13.2" height="6.2" fill="#E3E3E3" stroke="#1E2B33" stroke-width="0.9" transform="translate(279.2 1422.6) rotate(321.4)"/>
<line x1="0" y1="-31.5" x2="0" y2="-39" stroke="#1E2B33" stroke-width="1.6" transform="translate(279.2 1422.6) rotate(334.3)"/>
<rect x="-6.6" y="-38.2" width="13.2" height="6.2" fill="#E3E3E3" stroke="#1E2B33" stroke-width="0.9" transform="translate(279.2 1422.6) rotate(347.1)"/>
<line x1="0" y1="-31.5" x2="0" y2="-39" stroke="#1E2B33" stroke-width="1.6" transform="translate(279.2 1422.6) rotate(360)"/>
<g transform="translate(279.2 1422.6) rotate(8)"><line x1="0" y1="-40" x2="0" y2="-44" stroke="#1E2B33" stroke-width="1.6"/><rect x="-4.6" y="-53" width="9.2" height="9.5" fill="#7F9AA6" stroke="#2A3F4A" stroke-width="1.1"/><line x1="-1.6" y1="-52.5" x2="-1.6" y2="-44" stroke="#2A3F4A" stroke-width="0.7"/><line x1="1.6" y1="-52.5" x2="1.6" y2="-44" stroke="#2A3F4A" stroke-width="0.7"/></g>
<g transform="translate(279.2 1422.6) rotate(33.7)"><line x1="0" y1="-40" x2="0" y2="-44" stroke="#1E2B33" stroke-width="1.6"/><rect x="-4.6" y="-53" width="9.2" height="9.5" fill="#7F9AA6" stroke="#2A3F4A" stroke-width="1.1"/><line x1="-1.6" y1="-52.5" x2="-1.6" y2="-44" stroke="#2A3F4A" stroke-width="0.7"/><line x1="1.6" y1="-52.5" x2="1.6" y2="-44" stroke="#2A3F4A" stroke-width="0.7"/></g>
<g transform="translate(279.2 1422.6) rotate(59.4)"><line x1="0" y1="-40" x2="0" y2="-44" stroke="#1E2B33" stroke-width="1.6"/><rect x="-4.6" y="-53" width="9.2" height="9.5" fill="#7F9AA6" stroke="#2A3F4A" stroke-width="1.1"/><line x1="-1.6" y1="-52.5" x2="-1.6" y2="-44" stroke="#2A3F4A" stroke-width="0.7"/><line x1="1.6" y1="-52.5" x2="1.6" y2="-44" stroke="#2A3F4A" stroke-width="0.7"/></g>
<g transform="translate(279.2 1422.6) rotate(85.1)"><line x1="0" y1="-40" x2="0" y2="-44" stroke="#1E2B33" stroke-width="1.6"/><rect x="-4.6" y="-53" width="9.2" height="9.5" fill="#7F9AA6" stroke="#2A3F4A" stroke-width="1.1"/><line x1="-1.6" y1="-52.5" x2="-1.6" y2="-44" stroke="#2A3F4A" stroke-width="0.7"/><line x1="1.6" y1="-52.5" x2="1.6" y2="-44" stroke="#2A3F4A" stroke-width="0.7"/></g>
<g transform="translate(279.2 1422.6) rotate(110.9)"><line x1="0" y1="-40" x2="0" y2="-44" stroke="#1E2B33" stroke-width="1.6"/><rect x="-4.6" y="-53" width="9.2" height="9.5" fill="#7F9AA6" stroke="#2A3F4A" stroke-width="1.1"/><line x1="-1.6" y1="-52.5" x2="-1.6" y2="-44" stroke="#2A3F4A" stroke-width="0.7"/><line x1="1.6" y1="-52.5" x2="1.6" y2="-44" stroke="#2A3F4A" stroke-width="0.7"/></g>
<g transform="translate(279.2 1422.6) rotate(136.6)"><line x1="0" y1="-40" x2="0" y2="-44" stroke="#1E2B33" stroke-width="1.6"/><rect x="-4.6" y="-53" width="9.2" height="9.5" fill="#7F9AA6" stroke="#2A3F4A" stroke-width="1.1"/><line x1="-1.6" y1="-52.5" x2="-1.6" y2="-44" stroke="#2A3F4A" stroke-width="0.7"/><line x1="1.6" y1="-52.5" x2="1.6" y2="-44" stroke="#2A3F4A" stroke-width="0.7"/></g>
<g transform="translate(279.2 1422.6) rotate(162.3)"><line x1="0" y1="-40" x2="0" y2="-44" stroke="#1E2B33" stroke-width="1.6"/><rect x="-4.6" y="-53" width="9.2" height="9.5" fill="#7F9AA6" stroke="#2A3F4A" stroke-width="1.1"/><line x1="-1.6" y1="-52.5" x2="-1.6" y2="-44" stroke="#2A3F4A" stroke-width="0.7"/><line x1="1.6" y1="-52.5" x2="1.6" y2="-44" stroke="#2A3F4A" stroke-width="0.7"/></g>
<g transform="translate(279.2 1422.6) rotate(188)"><line x1="0" y1="-40" x2="0" y2="-44" stroke="#1E2B33" stroke-width="1.6"/><rect x="-4.6" y="-53" width="9.2" height="9.5" fill="#7F9AA6" stroke="#2A3F4A" stroke-width="1.1"/><line x1="-1.6" y1="-52.5" x2="-1.6" y2="-44" stroke="#2A3F4A" stroke-width="0.7"/><line x1="1.6" y1="-52.5" x2="1.6" y2="-44" stroke="#2A3F4A" stroke-width="0.7"/></g>
<g transform="translate(279.2 1422.6) rotate(213.7)"><line x1="0" y1="-40" x2="0" y2="-44" stroke="#1E2B33" stroke-width="1.6"/><rect x="-4.6" y="-53" width="9.2" height="9.5" fill="#7F9AA6" stroke="#2A3F4A" stroke-width="1.1"/><line x1="-1.6" y1="-52.5" x2="-1.6" y2="-44" stroke="#2A3F4A" stroke-width="0.7"/><line x1="1.6" y1="-52.5" x2="1.6" y2="-44" stroke="#2A3F4A" stroke-width="0.7"/></g>
<g transform="translate(279.2 1422.6) rotate(239.4)"><line x1="0" y1="-40" x2="0" y2="-44" stroke="#1E2B33" stroke-width="1.6"/><rect x="-4.6" y="-53" width="9.2" height="9.5" fill="#7F9AA6" stroke="#2A3F4A" stroke-width="1.1"/><line x1="-1.6" y1="-52.5" x2="-1.6" y2="-44" stroke="#2A3F4A" stroke-width="0.7"/><line x1="1.6" y1="-52.5" x2="1.6" y2="-44" stroke="#2A3F4A" stroke-width="0.7"/></g>
<g transform="translate(279.2 1422.6) rotate(265.1)"><line x1="0" y1="-40" x2="0" y2="-44" stroke="#1E2B33" stroke-width="1.6"/><rect x="-4.6" y="-53" width="9.2" height="9.5" fill="#7F9AA6" stroke="#2A3F4A" stroke-width="1.1"/><line x1="-1.6" y1="-52.5" x2="-1.6" y2="-44" stroke="#2A3F4A" stroke-width="0.7"/><line x1="1.6" y1="-52.5" x2="1.6" y2="-44" stroke="#2A3F4A" stroke-width="0.7"/></g>
<g transform="translate(279.2 1422.6) rotate(290.9)"><line x1="0" y1="-40" x2="0" y2="-44" stroke="#1E2B33" stroke-width="1.6"/><rect x="-4.6" y="-53" width="9.2" height="9.5" fill="#7F9AA6" stroke="#2A3F4A" stroke-width="1.1"/><line x1="-1.6" y1="-52.5" x2="-1.6" y2="-44" stroke="#2A3F4A" stroke-width="0.7"/><line x1="1.6" y1="-52.5" x2="1.6" y2="-44" stroke="#2A3F4A" stroke-width="0.7"/></g>
<g transform="translate(279.2 1422.6) rotate(316.6)"><line x1="0" y1="-40" x2="0" y2="-44" stroke="#1E2B33" stroke-width="1.6"/><rect x="-4.6" y="-53" width="9.2" height="9.5" fill="#7F9AA6" stroke="#2A3F4A" stroke-width="1.1"/><line x1="-1.6" y1="-52.5" x2="-1.6" y2="-44" stroke="#2A3F4A" stroke-width="0.7"/><line x1="1.6" y1="-52.5" x2="1.6" y2="-44" stroke="#2A3F4A" stroke-width="0.7"/></g>
<g transform="translate(279.2 1422.6) rotate(342.3)"><line x1="0" y1="-40" x2="0" y2="-44" stroke="#1E2B33" stroke-width="1.6"/><rect x="-4.6" y="-53" width="9.2" height="9.5" fill="#7F9AA6" stroke="#2A3F4A" stroke-width="1.1"/><line x1="-1.6" y1="-52.5" x2="-1.6" y2="-44" stroke="#2A3F4A" stroke-width="0.7"/><line x1="1.6" y1="-52.5" x2="1.6" y2="-44" stroke="#2A3F4A" stroke-width="0.7"/></g>
<path d="M258,1413 C258,1420 260,1426 265,1425 C270,1424 266,1415 263,1419 C262,1426 268,1430 273,1428 C278,1426 274,1418 271,1422 C270,1429 276,1433 281,1431 C286,1429 282,1421 279,1425 C278,1432 284,1436 289,1434 C293,1432 296,1428 302,1427" fill="none" stroke="#222" stroke-width="1.3"/>
<g transform="translate(370.5 1430) rotate(11.5)"><line x1="0" y1="-84" x2="0" y2="-58" stroke="#BBBBBB" stroke-width="1.2"/><rect x="-2.6" y="-58" width="5.2" height="11" fill="#8A9AA2" stroke="#2A3F4A" stroke-width="1.2"/><rect x="-11.5" y="-47" width="23" height="88" fill="#fff" stroke="#2A3F4A" stroke-width="1.8"/><g stroke="#4A4A4A" stroke-width="1.4"><line x1="-11.5" y1="-37" x2="-3" y2="-37"/><line x1="-11.5" y1="-26.4" x2="-3" y2="-26.4"/><line x1="-11.5" y1="-15.8" x2="-3" y2="-15.8"/><line x1="-11.5" y1="-5.2" x2="-3" y2="-5.2"/><line x1="-11.5" y1="5.4" x2="-3" y2="5.4"/><line x1="-11.5" y1="16" x2="-3" y2="16"/><line x1="-11.5" y1="26.6" x2="-3" y2="26.6"/><line x1="-11.5" y1="37.2" x2="-3" y2="37.2"/></g><ellipse cx="0" cy="44" rx="19" ry="5.5" fill="#fff" stroke="#2A3F4A" stroke-width="1.8"/><rect x="-7" y="49.5" width="14" height="30" fill="#fff" stroke="#2A3F4A" stroke-width="1.6"/><ellipse cx="0" cy="81" rx="9.5" ry="3.5" fill="#fff" stroke="#2A3F4A" stroke-width="1.6"/></g>
<defs><linearGradient id="tlg" x1="0" y1="1" x2="1" y2="0"><stop offset="0" stop-color="#72C9F1"/><stop offset="0.5" stop-color="#4C9BC0"/><stop offset="1" stop-color="#234A5C"/></linearGradient></defs>
<polygon points="528.1,1209.9 1184.9,1209.9 1184.9,1188.9 1225.2,1229.8 1184.9,1269.2 1184.9,1248.2 528.1,1248.2" fill="url(#tlg)" stroke="#0E2635" stroke-width="4.2" stroke-linejoin="miter"/>
<line x1="582.7" y1="1145.9" x2="582.7" y2="1180" stroke="#1F6A8A" stroke-width="3.4" />
<polygon points="574.2,1178.5 591.2,1178.5 582.7,1198.6" fill="#1F6A8A" stroke="none" stroke-width="0" />
<line x1="1120.9" y1="1150.1" x2="1120.9" y2="1182" stroke="#000" stroke-width="3.4" />
<polygon points="1111.4,1180 1130.4,1180 1120.9,1202.6" fill="#000" stroke="none" stroke-width="0" />
<text x="484.4" y="1108.1" font-size="35.64" fill="#000" >Virus challenge</text>
<text x="912.1" y="1063" font-size="35.94" fill="#000" >Sample collection (ankles,</text>
<text x="913.7" y="1106.6" font-size="35.82" fill="#000" >wrists, spleens, and serum)</text>
<text x="581.5" y="1303.3" font-size="33.5" fill="#000" >0</text>
<text x="745" y="1303.3" font-size="33.5" fill="#000" >1</text>
<text x="930.3" y="1303.3" font-size="33.5" fill="#000" >2</text>
<text x="1111" y="1307" font-size="37.23" fill="#000" >3</text>
<text x="1149.3" y="1307" font-size="37.35" fill="#000" >days</text>
<g transform="translate(581.6 1354.7) rotate(-35)"><clipPath id="pc581"><rect x="-33.5" y="-12.8" width="67" height="25.5" rx="12.8"/></clipPath><rect x="-33.5" y="-12.8" width="67" height="25.5" rx="12.8" fill="#fff"/><rect x="-33.5" y="-12.8" width="30.2" height="25.5" fill="#FBBF0C" clip-path="url(#pc581)"/><rect x="-33.5" y="-12.8" width="67" height="25.5" rx="12.8" fill="none" stroke="#1B2A33" stroke-width="2.3"/></g>
<g transform="translate(752.1 1361) rotate(-35)"><clipPath id="pc752"><rect x="-33.5" y="-12.8" width="67" height="25.5" rx="12.8"/></clipPath><rect x="-33.5" y="-12.8" width="67" height="25.5" rx="12.8" fill="#fff"/><rect x="-33.5" y="-12.8" width="30.2" height="25.5" fill="#FBBF0C" clip-path="url(#pc752)"/><rect x="-33.5" y="-12.8" width="67" height="25.5" rx="12.8" fill="none" stroke="#1B2A33" stroke-width="2.3"/></g>
<g transform="translate(928.9 1363.6) rotate(-35)"><clipPath id="pc928"><rect x="-33.5" y="-12.8" width="67" height="25.5" rx="12.8"/></clipPath><rect x="-33.5" y="-12.8" width="67" height="25.5" rx="12.8" fill="#fff"/><rect x="-33.5" y="-12.8" width="30.2" height="25.5" fill="#FBBF0C" clip-path="url(#pc928)"/><rect x="-33.5" y="-12.8" width="67" height="25.5" rx="12.8" fill="none" stroke="#1B2A33" stroke-width="2.3"/></g>
<text x="451.5" y="1459.6" font-size="35.95" fill="#000" >Oral administration of VV261 or T-705, quaque die (qd)</text>
<text x="696.3" y="1531.4" font-size="35.81" fill="#000" >n = 6 per treatment group</text>
<defs><linearGradient id="cbg" x1="1552.7" y1="0" x2="2291" y2="0" gradientUnits="userSpaceOnUse"><stop offset="0" stop-color="#33CC33"/><stop offset="0.30" stop-color="#74DC74"/><stop offset="0.62" stop-color="#C2F0C2"/><stop offset="0.935" stop-color="#FFFFFF"/><stop offset="0.955" stop-color="#FFFFFF"/><stop offset="0.965" stop-color="#F5D5D5"/><stop offset="1" stop-color="#CC3030"/></linearGradient></defs>
<rect x="1551.9" y="970.4" width="740.2" height="45.6" fill="url(#cbg)" stroke="#000" stroke-width="4.4" />
<line x1="1774.5" y1="972" x2="1774.5" y2="1014" stroke="#000" stroke-width="4" stroke-dasharray="9 9"/>
<line x1="2011.9" y1="972" x2="2011.9" y2="1014" stroke="#000" stroke-width="4" stroke-dasharray="9 9"/>
<line x1="2248.7" y1="972" x2="2248.7" y2="1014" stroke="#000" stroke-width="4" stroke-dasharray="9 9"/>
<text x="1752.3" y="951.5" font-size="47.85" fill="#000" >-4</text>
<text x="1989.1" y="951.5" font-size="49.06" fill="#000" >-2</text>
<text x="2236" y="951.5" font-size="45.68" fill="#000" >0</text>
<text x="1783.5" y="1003" font-size="29.8" font-weight="bold">Log<tspan font-size="20.5" dy="6">2</tspan><tspan dy="-6"> fold change</tspan></text>
<rect x="1553.7" y="1032.4" width="74.3" height="55.2" fill="#FAE8E8"/>
<rect x="1627.4" y="1032.4" width="74.3" height="55.2" fill="#EDF9EB"/>
<rect x="1701.1" y="1032.4" width="74.3" height="55.2" fill="#F2FBF1"/>
<rect x="1774.8" y="1032.4" width="74.3" height="55.2" fill="#D7F4D3"/>
<rect x="1848.5" y="1032.4" width="74.3" height="55.2" fill="#FEFEFC"/>
<rect x="1922.2" y="1032.4" width="74.3" height="55.2" fill="#F5DCDD"/>
<rect x="1995.9" y="1032.4" width="74.3" height="55.2" fill="#F7FCF6"/>
<rect x="2069.6" y="1032.4" width="74.3" height="55.2" fill="#F0FAEF"/>
<rect x="2143.3" y="1032.4" width="74.3" height="55.2" fill="#DDF5DA"/>
<rect x="2217" y="1032.4" width="74.3" height="55.2" fill="#BFEFB9"/>
<rect x="1553.7" y="1087" width="74.3" height="55.2" fill="#D45858"/>
<rect x="1627.4" y="1087" width="74.3" height="55.2" fill="#F1FAF0"/>
<rect x="1701.1" y="1087" width="74.3" height="55.2" fill="#EEF9EC"/>
<rect x="1774.8" y="1087" width="74.3" height="55.2" fill="#B8EEB3"/>
<rect x="1848.5" y="1087" width="74.3" height="55.2" fill="#D5F4D1"/>
<rect x="1922.2" y="1087" width="74.3" height="55.2" fill="#ECB6B6"/>
<rect x="1995.9" y="1087" width="74.3" height="55.2" fill="#F2FBF1"/>
<rect x="2069.6" y="1087" width="74.3" height="55.2" fill="#DFF6DC"/>
<rect x="2143.3" y="1087" width="74.3" height="55.2" fill="#AEEBA7"/>
<rect x="2217" y="1087" width="74.3" height="55.2" fill="#ABEAA5"/>
<rect x="1553.7" y="1141.6" width="74.3" height="55.2" fill="#F2CFD0"/>
<rect x="1627.4" y="1141.6" width="74.3" height="55.2" fill="#F7FDF6"/>
<rect x="1701.1" y="1141.6" width="74.3" height="55.2" fill="#E8F8E6"/>
<rect x="1774.8" y="1141.6" width="74.3" height="55.2" fill="#C3F0BE"/>
<rect x="1848.5" y="1141.6" width="74.3" height="55.2" fill="#E2F7DF"/>
<rect x="1922.2" y="1141.6" width="74.3" height="55.2" fill="#F6DFE0"/>
<rect x="1995.9" y="1141.6" width="74.3" height="55.2" fill="#F4FBF3"/>
<rect x="2069.6" y="1141.6" width="74.3" height="55.2" fill="#E6F7E3"/>
<rect x="2143.3" y="1141.6" width="74.3" height="55.2" fill="#8CE285"/>
<rect x="2217" y="1141.6" width="74.3" height="55.2" fill="#B8EEB3"/>
<rect x="1553.7" y="1196.2" width="74.3" height="55.2" fill="#E9AAAA"/>
<rect x="1627.4" y="1196.2" width="74.3" height="55.2" fill="#F2FBF1"/>
<rect x="1701.1" y="1196.2" width="74.3" height="55.2" fill="#EFFAEE"/>
<rect x="1774.8" y="1196.2" width="74.3" height="55.2" fill="#CFF3CB"/>
<rect x="1848.5" y="1196.2" width="74.3" height="55.2" fill="#F2FBF1"/>
<rect x="1922.2" y="1196.2" width="74.3" height="55.2" fill="#E08A8A"/>
<rect x="1995.9" y="1196.2" width="74.3" height="55.2" fill="#E2F7DF"/>
<rect x="2069.6" y="1196.2" width="74.3" height="55.2" fill="#C6F1C1"/>
<rect x="2143.3" y="1196.2" width="74.3" height="55.2" fill="#8AE283"/>
<rect x="2217" y="1196.2" width="74.3" height="55.2" fill="#8CE385"/>
<rect x="1553.7" y="1250.8" width="74.3" height="55.2" fill="#E08A8A"/>
<rect x="1627.4" y="1250.8" width="74.3" height="55.2" fill="#E7F8E5"/>
<rect x="1701.1" y="1250.8" width="74.3" height="55.2" fill="#EDF9EB"/>
<rect x="1774.8" y="1250.8" width="74.3" height="55.2" fill="#AEEBA8"/>
<rect x="1848.5" y="1250.8" width="74.3" height="55.2" fill="#D5F4D1"/>
<rect x="1922.2" y="1250.8" width="74.3" height="55.2" fill="#CB3030"/>
<rect x="1995.9" y="1250.8" width="74.3" height="55.2" fill="#EEF9EC"/>
<rect x="2069.6" y="1250.8" width="74.3" height="55.2" fill="#C3F0BE"/>
<rect x="2143.3" y="1250.8" width="74.3" height="55.2" fill="#5DD658"/>
<rect x="2217" y="1250.8" width="74.3" height="55.2" fill="#35CC32"/>
<rect x="1553.7" y="1305.4" width="74.3" height="55.2" fill="#F2C8C8"/>
<rect x="1627.4" y="1305.4" width="74.3" height="55.2" fill="#F6FCF5"/>
<rect x="1701.1" y="1305.4" width="74.3" height="55.2" fill="#E3F7E0"/>
<rect x="1774.8" y="1305.4" width="74.3" height="55.2" fill="#DBF5D8"/>
<rect x="1848.5" y="1305.4" width="74.3" height="55.2" fill="#E7F8E5"/>
<rect x="1922.2" y="1305.4" width="74.3" height="55.2" fill="#F3CDCE"/>
<rect x="1995.9" y="1305.4" width="74.3" height="55.2" fill="#F1FAF0"/>
<rect x="2069.6" y="1305.4" width="74.3" height="55.2" fill="#E2F7DF"/>
<rect x="2143.3" y="1305.4" width="74.3" height="55.2" fill="#EDF9EB"/>
<rect x="2217" y="1305.4" width="74.3" height="55.2" fill="#CEF3CA"/>
<rect x="1553.7" y="1360" width="74.3" height="55.2" fill="#E8AAAA"/>
<rect x="1627.4" y="1360" width="74.3" height="55.2" fill="#F6FCF5"/>
<rect x="1701.1" y="1360" width="74.3" height="55.2" fill="#EFFAEE"/>
<rect x="1774.8" y="1360" width="74.3" height="55.2" fill="#F0FAEF"/>
<rect x="1848.5" y="1360" width="74.3" height="55.2" fill="#F0FAEF"/>
<rect x="1922.2" y="1360" width="74.3" height="55.2" fill="#F3CFD0"/>
<rect x="1995.9" y="1360" width="74.3" height="55.2" fill="#F7FCF6"/>
<rect x="2069.6" y="1360" width="74.3" height="55.2" fill="#EEF9EC"/>
<rect x="2143.3" y="1360" width="74.3" height="55.2" fill="#E4F7E1"/>
<rect x="2217" y="1360" width="74.3" height="55.2" fill="#DCF5D9"/>
<rect x="1554.3" y="1032.9" width="734.6" height="381.3" fill="none" stroke="#000" stroke-width="5.4" />
<line x1="1531" y1="1060" x2="1552" y2="1060" stroke="#000" stroke-width="5.2" />
<text x="1458.7" y="1073.6" font-size="37.6" font-weight="bold" fill="#000" >IL-6</text>
<line x1="1531" y1="1114.7" x2="1552" y2="1114.7" stroke="#000" stroke-width="5.2" />
<text x="1415.8" y="1128.2" font-size="37.6" font-weight="bold" fill="#000" >TNF-α</text>
<line x1="1531" y1="1169.3" x2="1552" y2="1169.3" stroke="#000" stroke-width="5.2" />
<text x="1435.6" y="1182.9" font-size="37.6" font-weight="bold" fill="#000" >IL-1β</text>
<line x1="1531" y1="1224" x2="1552" y2="1224" stroke="#000" stroke-width="5.2" />
<text x="1427.5" y="1237.5" font-size="37.6" font-weight="bold" fill="#000" >CCL2</text>
<line x1="1531" y1="1278.6" x2="1552" y2="1278.6" stroke="#000" stroke-width="5.2" />
<text x="1381.4" y="1292.2" font-size="37.6" font-weight="bold" fill="#000" >CXCL10</text>
<line x1="1531" y1="1333.2" x2="1552" y2="1333.2" stroke="#000" stroke-width="5.2" />
<text x="1418.4" y="1346.8" font-size="37.6" font-weight="bold" fill="#000" >ISG15</text>
<line x1="1531" y1="1387.9" x2="1552" y2="1387.9" stroke="#000" stroke-width="5.2" />
<text x="1389.3" y="1401.5" font-size="37.6" font-weight="bold" fill="#000" >IFNAR1</text>
<line x1="1590.6" y1="1417" x2="1590.6" y2="1438.5" stroke="#000" stroke-width="5" />
<text x="1601.1" y="1470.5" font-size="37.6" font-weight="bold" text-anchor="end" fill="#000" transform="rotate(-45 1601.1 1470.5)" >Vehicle</text>
<line x1="1664.2" y1="1417" x2="1664.2" y2="1438.5" stroke="#000" stroke-width="5" />
<text x="1674.7" y="1470.5" font-size="37.6" font-weight="bold" text-anchor="end" fill="#000" transform="rotate(-45 1674.7 1470.5)" >VV261 2.5 mpk</text>
<line x1="1737.8" y1="1417" x2="1737.8" y2="1438.5" stroke="#000" stroke-width="5" />
<text x="1748.3" y="1470.5" font-size="37.6" font-weight="bold" text-anchor="end" fill="#000" transform="rotate(-45 1748.3 1470.5)" >VV261 5 mpk</text>
<line x1="1811.4" y1="1417" x2="1811.4" y2="1438.5" stroke="#000" stroke-width="5" />
<text x="1821.9" y="1470.5" font-size="37.6" font-weight="bold" text-anchor="end" fill="#000" transform="rotate(-45 1821.9 1470.5)" >VV261 10 mpk</text>
<line x1="1885" y1="1417" x2="1885" y2="1438.5" stroke="#000" stroke-width="5" />
<text x="1895.5" y="1470.5" font-size="37.6" font-weight="bold" text-anchor="end" fill="#000" transform="rotate(-45 1895.5 1470.5)" >T-705 400 mpk</text>
<line x1="1958.6" y1="1417" x2="1958.6" y2="1438.5" stroke="#000" stroke-width="5" />
<text x="1969.1" y="1470.5" font-size="37.6" font-weight="bold" text-anchor="end" fill="#000" transform="rotate(-45 1969.1 1470.5)" >Vehicle</text>
<line x1="2032.2" y1="1417" x2="2032.2" y2="1438.5" stroke="#000" stroke-width="5" />
<text x="2042.7" y="1470.5" font-size="37.6" font-weight="bold" text-anchor="end" fill="#000" transform="rotate(-45 2042.7 1470.5)" >VV261 2.5 mpk</text>
<line x1="2105.8" y1="1417" x2="2105.8" y2="1438.5" stroke="#000" stroke-width="5" />
<text x="2116.3" y="1470.5" font-size="37.6" font-weight="bold" text-anchor="end" fill="#000" transform="rotate(-45 2116.3 1470.5)" >VV261 5 mpk</text>
<line x1="2179.4" y1="1417" x2="2179.4" y2="1438.5" stroke="#000" stroke-width="5" />
<text x="2189.9" y="1470.5" font-size="37.6" font-weight="bold" text-anchor="end" fill="#000" transform="rotate(-45 2189.9 1470.5)" >VV261 10 mpk</text>
<line x1="2253" y1="1417" x2="2253" y2="1438.5" stroke="#000" stroke-width="5" />
<text x="2263.5" y="1470.5" font-size="37.6" font-weight="bold" text-anchor="end" fill="#000" transform="rotate(-45 2263.5 1470.5)" >T-705 400 mpk</text>
<line x1="1467.3" y1="1657.1" x2="1717.4" y2="1657.1" stroke="#000" stroke-width="7" />
<line x1="1835.3" y1="1657.1" x2="2084.9" y2="1657.1" stroke="#000" stroke-width="7" />
<text x="1452.5" y="1705.8" font-size="37.61" font-weight="bold" fill="#000" >Ipsilateral ankle</text>
<text x="1896.3" y="1701.8" font-size="38.21" font-weight="bold" fill="#000" >Spleen</text>
<text x="276.9" y="1833" font-size="46.51" font-weight="bold" fill="#000" >Ipsilateral ankle</text>
<text x="85.6" y="2372.8" font-size="36.25" font-weight="bold" fill="#000" transform="rotate(-90 85.6 2372.8)" >PFU/gram (Log10)</text>
<line x1="173.6" y1="2048" x2="173.6" y2="2384.5" stroke="#000" stroke-width="5" />
<line x1="153.8" y1="2382.2" x2="173.6" y2="2382.2" stroke="#000" stroke-width="5" />
<text x="127.2" y="2395.3" font-size="37" font-weight="bold" fill="#000" >4</text>
<line x1="153.8" y1="2271.7" x2="173.6" y2="2271.7" stroke="#000" stroke-width="5" />
<text x="128.4" y="2284.8" font-size="37" font-weight="bold" fill="#000" >6</text>
<line x1="153.8" y1="2161.1" x2="173.6" y2="2161.1" stroke="#000" stroke-width="5" />
<text x="128.2" y="2174.3" font-size="37" font-weight="bold" fill="#000" >8</text>
<line x1="153.8" y1="2050.6" x2="173.6" y2="2050.6" stroke="#000" stroke-width="5" />
<text x="108" y="2063.7" font-size="37" font-weight="bold" fill="#000" >10</text>
<line x1="153.8" y1="2382.2" x2="710.4" y2="2382.2" stroke="#000" stroke-width="5" />
<rect x="207.9" y="2106.1" width="64.8" height="273.9" fill="#93A9D5" stroke="#14224C" stroke-width="2.2" />
<rect x="308.2" y="2174.5" width="64.8" height="205.5" fill="#DCCDB1" stroke="#7A6440" stroke-width="2.2" />
<rect x="408.4" y="2215.9" width="64.8" height="164.1" fill="#F0EDE7" stroke="#6A6A6A" stroke-width="2.2" />
<rect x="508.6" y="2299.2" width="64.8" height="80.8" fill="#B5D8E3" stroke="#3C5E6A" stroke-width="2.2" />
<rect x="608.9" y="2321.8" width="64.8" height="58.2" fill="#A8A8AA" stroke="#3A3A3A" stroke-width="2.2" />
<line x1="240.3" y1="2097.2" x2="240.3" y2="2114.7" stroke="#14224C" stroke-width="2.6" />
<line x1="224.3" y1="2097.2" x2="256.3" y2="2097.2" stroke="#14224C" stroke-width="2.6" />
<line x1="224.3" y1="2114.7" x2="256.3" y2="2114.7" stroke="#14224C" stroke-width="2.6" />
<line x1="240.3" y1="2382.2" x2="240.3" y2="2402.6" stroke="#000" stroke-width="5" />
<circle cx="216.2" cy="2091.8" r="9.5" fill="#2E5AAC" stroke="none" stroke-width="0" />
<circle cx="216.2" cy="2118.2" r="9.5" fill="#2E5AAC" stroke="none" stroke-width="0" />
<circle cx="233.3" cy="2105.5" r="9.5" fill="#2E5AAC" stroke="none" stroke-width="0" />
<circle cx="248.6" cy="2105.5" r="9.5" fill="#2E5AAC" stroke="none" stroke-width="0" />
<circle cx="263.9" cy="2105.5" r="9.5" fill="#2E5AAC" stroke="none" stroke-width="0" />
<line x1="340.6" y1="2138.9" x2="340.6" y2="2207.9" stroke="#7A6440" stroke-width="2.6" />
<line x1="324.6" y1="2138.9" x2="356.6" y2="2138.9" stroke="#7A6440" stroke-width="2.6" />
<line x1="324.6" y1="2207.9" x2="356.6" y2="2207.9" stroke="#7A6440" stroke-width="2.6" />
<line x1="340.6" y1="2382.2" x2="340.6" y2="2402.6" stroke="#000" stroke-width="5" />
<rect x="330.7" y="2108.4" width="19" height="19" fill="#C2A574" stroke="none" stroke-width="0" />
<rect x="307.5" y="2165" width="19" height="19" fill="#C2A574" stroke="none" stroke-width="0" />
<rect x="330.7" y="2175.2" width="19" height="19" fill="#C2A574" stroke="none" stroke-width="0" />
<rect x="354.6" y="2168.8" width="19" height="19" fill="#C2A574" stroke="none" stroke-width="0" />
<rect x="330.7" y="2202.2" width="19" height="19" fill="#C2A574" stroke="none" stroke-width="0" />
<line x1="440.8" y1="2176.1" x2="440.8" y2="2254" stroke="#5A5A5A" stroke-width="2.6" />
<line x1="424.8" y1="2176.1" x2="456.8" y2="2176.1" stroke="#5A5A5A" stroke-width="2.6" />
<line x1="424.8" y1="2254" x2="456.8" y2="2254" stroke="#5A5A5A" stroke-width="2.6" />
<line x1="440.8" y1="2382.2" x2="440.8" y2="2402.6" stroke="#000" stroke-width="5" />
<polygon points="440.4,2148.1 451.4,2167.1 429.4,2167.1" fill="#E3E0D6" stroke="none" stroke-width="0" />
<polygon points="440.4,2183.1 451.4,2202.1 429.4,2202.1" fill="#E3E0D6" stroke="none" stroke-width="0" />
<polygon points="416.5,2236.5 427.5,2255.5 405.5,2255.5" fill="#E3E0D6" stroke="none" stroke-width="0" />
<polygon points="440.4,2229.2 451.4,2248.2 429.4,2248.2" fill="#E3E0D6" stroke="none" stroke-width="0" />
<polygon points="464.3,2232.4 475.3,2251.4 453.3,2251.4" fill="#E3E0D6" stroke="none" stroke-width="0" />
<line x1="541" y1="2275" x2="541" y2="2321.5" stroke="#3C5E6A" stroke-width="2.6" />
<line x1="525" y1="2275" x2="557" y2="2275" stroke="#3C5E6A" stroke-width="2.6" />
<line x1="525" y1="2321.5" x2="557" y2="2321.5" stroke="#3C5E6A" stroke-width="2.6" />
<line x1="541" y1="2382.2" x2="541" y2="2402.6" stroke="#000" stroke-width="5" />
<polygon points="516.7,2293.1 527.7,2274.1 505.7,2274.1" fill="#6EB1CF" stroke="none" stroke-width="0" />
<polygon points="564.5,2285.2 575.5,2266.2 553.5,2266.2" fill="#6EB1CF" stroke="none" stroke-width="0" />
<polygon points="564.5,2318.6 575.5,2299.6 553.5,2299.6" fill="#6EB1CF" stroke="none" stroke-width="0" />
<polygon points="516.7,2334.5 527.7,2315.5 505.7,2315.5" fill="#6EB1CF" stroke="none" stroke-width="0" />
<line x1="641.3" y1="2302.7" x2="641.3" y2="2339" stroke="#3A3A3A" stroke-width="2.6" />
<line x1="625.3" y1="2302.7" x2="657.3" y2="2302.7" stroke="#3A3A3A" stroke-width="2.6" />
<line x1="625.3" y1="2339" x2="657.3" y2="2339" stroke="#3A3A3A" stroke-width="2.6" />
<line x1="641.3" y1="2382.2" x2="641.3" y2="2402.6" stroke="#000" stroke-width="5" />
<polygon points="616.9,2303 626.8,2312.9 616.9,2322.8 607,2312.9" fill="#4B4E53" stroke="none" stroke-width="0" />
<polygon points="664.3,2286.1 674.2,2296 664.3,2305.9 654.4,2296" fill="#4B4E53" stroke="none" stroke-width="0" />
<polygon points="664.3,2311.6 674.2,2321.5 664.3,2331.4 654.4,2321.5" fill="#4B4E53" stroke="none" stroke-width="0" />
<polygon points="640.8,2317.3 650.7,2327.2 640.8,2337.1 630.9,2327.2" fill="#4B4E53" stroke="none" stroke-width="0" />
<polygon points="640.8,2338 650.7,2347.9 640.8,2357.8 630.9,2347.9" fill="#4B4E53" stroke="none" stroke-width="0" />
<polyline points="240.3,2073.5 240.3,2046.7 340.6,2046.7 340.6,2098.1" fill="none" stroke="#000" stroke-width="4.5" stroke-linejoin="miter" stroke-linecap="butt"/>
<path d="M281.5,2029L281.5,2040.4M276.5,2031.9L286.4,2037.5M286.4,2031.9L276.5,2037.5M297.4,2029L297.4,2040.4M292.4,2031.9L302.3,2037.5M302.3,2031.9L292.4,2037.5" stroke="#000" stroke-width="2.3" fill="none"/>
<polyline points="240.3,2032.2 240.3,1990.9 440.8,1990.9 440.8,2145.2" fill="none" stroke="#000" stroke-width="4.5" stroke-linejoin="miter" stroke-linecap="butt"/>
<path d="M315.7,1973.2L315.7,1984.6M310.8,1976.1L320.6,1981.8M320.6,1976.1L310.8,1981.8M331.6,1973.2L331.6,1984.6M326.7,1976.1L336.5,1981.8M336.5,1976.1L326.7,1981.8M347.5,1973.2L347.5,1984.6M342.6,1976.1L352.4,1981.8M352.4,1976.1L342.6,1981.8M363.4,1973.2L363.4,1984.6M358.5,1976.1L368.3,1981.8M368.3,1976.1L358.5,1981.8" stroke="#000" stroke-width="2.3" fill="none"/>
<polyline points="240.3,1982 240.3,1941.2 541,1941.2 541,2246.7" fill="none" stroke="#000" stroke-width="4.5" stroke-linejoin="miter" stroke-linecap="butt"/>
<path d="M365.8,1923.5L365.8,1934.9M360.9,1926.4L370.8,1932M370.8,1926.4L360.9,1932M381.7,1923.5L381.7,1934.9M376.8,1926.4L386.7,1932M386.7,1926.4L376.8,1932M397.6,1923.5L397.6,1934.9M392.7,1926.4L402.6,1932M402.6,1926.4L392.7,1932M413.5,1923.5L413.5,1934.9M408.6,1926.4L418.5,1932M418.5,1926.4L408.6,1932" stroke="#000" stroke-width="2.3" fill="none"/>
<polyline points="240.3,1926.9 240.3,1886 641.3,1886 641.3,2246.7" fill="none" stroke="#000" stroke-width="4.5" stroke-linejoin="miter" stroke-linecap="butt"/>
<path d="M415.9,1868.3L415.9,1879.7M411,1871.2L420.9,1876.8M420.9,1871.2L411,1876.8M431.8,1868.3L431.8,1879.7M426.9,1871.2L436.8,1876.8M436.8,1871.2L426.9,1876.8M447.7,1868.3L447.7,1879.7M442.8,1871.2L452.7,1876.8M452.7,1871.2L442.8,1876.8M463.6,1868.3L463.6,1879.7M458.7,1871.2L468.6,1876.8M468.6,1871.2L458.7,1876.8" stroke="#000" stroke-width="2.3" fill="none"/>
<text x="250.8" y="2440" font-size="39.5" font-weight="bold" text-anchor="end" fill="#000" transform="rotate(-45 250.8 2440)" >Vehicle</text>
<text x="351.1" y="2440" font-size="39.5" font-weight="bold" text-anchor="end" fill="#000" transform="rotate(-45 351.1 2440)" >VV261-2.5mpk</text>
<text x="451.3" y="2440" font-size="39.5" font-weight="bold" text-anchor="end" fill="#000" transform="rotate(-45 451.3 2440)" >VV261-5mpk</text>
<text x="551.5" y="2440" font-size="39.5" font-weight="bold" text-anchor="end" fill="#000" transform="rotate(-45 551.5 2440)" >VV261-10mpk</text>
<text x="651.8" y="2440" font-size="39.5" font-weight="bold" text-anchor="end" fill="#000" transform="rotate(-45 651.8 2440)" >T-705-400mpk</text>
<text x="1017.4" y="1837" font-size="46.79" font-weight="bold" fill="#000" >Ipsilateral wrist</text>
<text x="859.5" y="2379" font-size="39.4" font-weight="bold" fill="#000" transform="rotate(-90 859.5 2379)" >PFU/gram (Log10)</text>
<line x1="945.5" y1="2028.5" x2="945.5" y2="2389.2" stroke="#000" stroke-width="5" />
<line x1="923.8" y1="2032.3" x2="945.5" y2="2032.3" stroke="#000" stroke-width="5" />
<text x="896.3" y="2046.1" font-size="39" font-weight="bold" fill="#000" >8</text>
<line x1="923.8" y1="2103.2" x2="945.5" y2="2103.2" stroke="#000" stroke-width="5" />
<text x="896.5" y="2117" font-size="39" font-weight="bold" fill="#000" >6</text>
<line x1="923.8" y1="2174.1" x2="945.5" y2="2174.1" stroke="#000" stroke-width="5" />
<text x="895.3" y="2187.9" font-size="39" font-weight="bold" fill="#000" >4</text>
<line x1="923.8" y1="2245" x2="945.5" y2="2245" stroke="#000" stroke-width="5" />
<text x="896.7" y="2258.8" font-size="39" font-weight="bold" fill="#000" >2</text>
<line x1="923.8" y1="2315.9" x2="945.5" y2="2315.9" stroke="#000" stroke-width="5" />
<text x="896.7" y="2329.7" font-size="39" font-weight="bold" fill="#000" >0</text>
<line x1="923.8" y1="2386.8" x2="945.5" y2="2386.8" stroke="#000" stroke-width="5" />
<text x="883.6" y="2400.6" font-size="39" font-weight="bold" fill="#000" >-2</text>
<line x1="923.8" y1="2386.7" x2="1465.5" y2="2386.7" stroke="#000" stroke-width="5" />
<line x1="945.5" y1="2315.9" x2="1463.4" y2="2315.9" stroke="#000" stroke-width="5" />
<line x1="945.5" y1="2280.3" x2="1452" y2="2280.3" stroke="#000" stroke-width="5" stroke-dasharray="10 15.8" stroke-linecap="round"/>
<rect x="978.6" y="2110.6" width="62" height="205.3" fill="#395DB2" stroke="#14224C" stroke-width="2.2" fill-opacity="0.54"/>
<rect x="1075.8" y="2271.8" width="62" height="44.1" fill="#BDA071" stroke="#7A6440" stroke-width="2.2" fill-opacity="0.54"/>
<rect x="1173.1" y="2244.6" width="62" height="71.3" fill="#E2DCD1" stroke="#6A6A6A" stroke-width="2.2" fill-opacity="0.54"/>
<text x="1406.6" y="2248.9" font-size="43.09" font-weight="bold" fill="#000" >LOD</text>
<line x1="1106.8" y1="2207.8" x2="1106.8" y2="2332.3" stroke="#7A6440" stroke-width="2.6" />
<line x1="1091.8" y1="2207.8" x2="1121.8" y2="2207.8" stroke="#7A6440" stroke-width="2.6" />
<line x1="1091.8" y1="2332.3" x2="1121.8" y2="2332.3" stroke="#7A6440" stroke-width="2.6" />
<line x1="1204.1" y1="2176.7" x2="1204.1" y2="2309.4" stroke="#5A5A5A" stroke-width="2.6" />
<line x1="1189.1" y1="2176.7" x2="1219.1" y2="2176.7" stroke="#5A5A5A" stroke-width="2.6" />
<line x1="1189.1" y1="2309.4" x2="1219.1" y2="2309.4" stroke="#5A5A5A" stroke-width="2.6" />
<circle cx="985.8" cy="2112.8" r="9.5" fill="#2E5AAC" stroke="none" stroke-width="0" />
<circle cx="998.8" cy="2103.3" r="9.5" fill="#2E5AAC" stroke="none" stroke-width="0" />
<circle cx="1011.8" cy="2105" r="9.5" fill="#2E5AAC" stroke="none" stroke-width="0" />
<circle cx="1021.3" cy="2103.3" r="9.5" fill="#2E5AAC" stroke="none" stroke-width="0" />
<circle cx="1033.4" cy="2115" r="9.5" fill="#2E5AAC" stroke="none" stroke-width="0" />
<circle cx="1010" cy="2109" r="9.5" fill="#2E5AAC" stroke="none" stroke-width="0" />
<rect x="1087.8" y="2187.5" width="19" height="19" fill="#C2A574" stroke="none" stroke-width="0" />
<rect x="1110.3" y="2198.3" width="19" height="19" fill="#C2A574" stroke="none" stroke-width="0" />
<rect x="1077.9" y="2305.5" width="19" height="19" fill="#C2A574" stroke="none" stroke-width="0" />
<rect x="1098.2" y="2305.5" width="19" height="19" fill="#C2A574" stroke="none" stroke-width="0" />
<rect x="1118.9" y="2305.5" width="19" height="19" fill="#C2A574" stroke="none" stroke-width="0" />
<polygon points="1184.6,2179.2 1195.6,2198.2 1173.6,2198.2" fill="#E3E0D6" stroke="none" stroke-width="0" />
<polygon points="1227.8,2179.2 1238.8,2198.2 1216.8,2198.2" fill="#E3E0D6" stroke="none" stroke-width="0" />
<polygon points="1205,2195.2 1216,2214.2 1194,2214.2" fill="#E3E0D6" stroke="none" stroke-width="0" />
<polygon points="1193.3,2307.5 1204.3,2326.5 1182.3,2326.5" fill="#E3E0D6" stroke="none" stroke-width="0" />
<polygon points="1216.2,2307.5 1227.2,2326.5 1205.2,2326.5" fill="#E3E0D6" stroke="none" stroke-width="0" />
<polygon points="1281,2325.5 1292,2306.5 1270,2306.5" fill="#6EB1CF" stroke="none" stroke-width="0" />
<polygon points="1292,2325.5 1303,2306.5 1281,2306.5" fill="#6EB1CF" stroke="none" stroke-width="0" />
<polygon points="1302,2325.5 1313,2306.5 1291,2306.5" fill="#6EB1CF" stroke="none" stroke-width="0" />
<polygon points="1312,2325.5 1323,2306.5 1301,2306.5" fill="#6EB1CF" stroke="none" stroke-width="0" />
<polygon points="1323,2325.5 1334,2306.5 1312,2306.5" fill="#6EB1CF" stroke="none" stroke-width="0" />
<polygon points="1378,2305.1 1387.9,2315 1378,2324.9 1368.1,2315" fill="#4B4E53" stroke="none" stroke-width="0" />
<polygon points="1388,2305.1 1397.9,2315 1388,2324.9 1378.1,2315" fill="#4B4E53" stroke="none" stroke-width="0" />
<polygon points="1398.6,2305.1 1408.5,2315 1398.6,2324.9 1388.7,2315" fill="#4B4E53" stroke="none" stroke-width="0" />
<polygon points="1409,2305.1 1418.9,2315 1409,2324.9 1399.1,2315" fill="#4B4E53" stroke="none" stroke-width="0" />
<polygon points="1419,2305.1 1428.9,2315 1419,2324.9 1409.1,2315" fill="#4B4E53" stroke="none" stroke-width="0" />
<line x1="1009.6" y1="2386.7" x2="1009.6" y2="2408.7" stroke="#000" stroke-width="5" />
<line x1="1106.8" y1="2386.7" x2="1106.8" y2="2408.7" stroke="#000" stroke-width="5" />
<line x1="1204.1" y1="2386.7" x2="1204.1" y2="2408.7" stroke="#000" stroke-width="5" />
<line x1="1301.3" y1="2386.7" x2="1301.3" y2="2408.7" stroke="#000" stroke-width="5" />
<line x1="1398.6" y1="2386.7" x2="1398.6" y2="2408.7" stroke="#000" stroke-width="5" />
<polyline points="1009.6,2093.3 1009.6,2065.2 1106.8,2065.2 1106.8,2175.4" fill="none" stroke="#000" stroke-width="4.5" stroke-linejoin="miter" stroke-linecap="butt"/>
<path d="M1033.4,2047.5L1033.4,2058.9M1028.4,2050.3L1038.3,2056M1038.3,2050.3L1028.4,2056M1049.3,2047.5L1049.3,2058.9M1044.3,2050.3L1054.2,2056M1054.2,2050.3L1044.3,2056M1065.2,2047.5L1065.2,2058.9M1060.2,2050.3L1070.1,2056M1070.1,2050.3L1060.2,2056M1081.1,2047.5L1081.1,2058.9M1076.1,2050.3L1086,2056M1086,2050.3L1076.1,2056" stroke="#000" stroke-width="2.3" fill="none"/>
<polyline points="1009.6,2044.5 1009.6,2016.4 1204.1,2016.4 1204.1,2154.7" fill="none" stroke="#000" stroke-width="4.5" stroke-linejoin="miter" stroke-linecap="butt"/>
<path d="M1089.9,1998.7L1089.9,2010.1M1085,2001.6L1094.9,2007.2M1094.9,2001.6L1085,2007.2M1105.8,1998.7L1105.8,2010.1M1100.9,2001.6L1110.8,2007.2M1110.8,2001.6L1100.9,2007.2M1121.7,1998.7L1121.7,2010.1M1116.8,2001.6L1126.7,2007.2M1126.7,2001.6L1116.8,2007.2" stroke="#000" stroke-width="2.3" fill="none"/>
<polyline points="1009.6,2003.9 1009.6,1955 1301.3,1955 1301.3,2268.4" fill="none" stroke="#000" stroke-width="4.5" stroke-linejoin="miter" stroke-linecap="butt"/>
<path d="M1130.6,1937.3L1130.6,1948.7M1125.7,1940.2L1135.6,1945.8M1135.6,1940.2L1125.7,1945.8M1146.5,1937.3L1146.5,1948.7M1141.6,1940.2L1151.5,1945.8M1151.5,1940.2L1141.6,1945.8M1162.4,1937.3L1162.4,1948.7M1157.5,1940.2L1167.4,1945.8M1167.4,1940.2L1157.5,1945.8M1178.3,1937.3L1178.3,1948.7M1173.4,1940.2L1183.3,1945.8M1183.3,1940.2L1173.4,1945.8" stroke="#000" stroke-width="2.3" fill="none"/>
<polyline points="1009.6,1940.8 1009.6,1893.2 1398.6,1893.2 1398.6,2268.4" fill="none" stroke="#000" stroke-width="4.5" stroke-linejoin="miter" stroke-linecap="butt"/>
<path d="M1179.2,1875.5L1179.2,1886.9M1174.3,1878.4L1184.2,1884M1184.2,1878.4L1174.3,1884M1195.2,1875.5L1195.2,1886.9M1190.2,1878.4L1200.1,1884M1200.1,1878.4L1190.2,1884M1211,1875.5L1211,1886.9M1206.1,1878.4L1216,1884M1216,1878.4L1206.1,1884M1227,1875.5L1227,1886.9M1222,1878.4L1231.9,1884M1231.9,1878.4L1222,1884" stroke="#000" stroke-width="2.3" fill="none"/>
<text x="1024.1" y="2442" font-size="39.5" font-weight="bold" text-anchor="end" fill="#000" transform="rotate(-45 1024.1 2442)" >Vehicle</text>
<text x="1121.3" y="2442" font-size="39.5" font-weight="bold" text-anchor="end" fill="#000" transform="rotate(-45 1121.3 2442)" >VV261-2.5mpk</text>
<text x="1218.6" y="2442" font-size="39.5" font-weight="bold" text-anchor="end" fill="#000" transform="rotate(-45 1218.6 2442)" >VV261-5mpk</text>
<text x="1315.8" y="2442" font-size="39.5" font-weight="bold" text-anchor="end" fill="#000" transform="rotate(-45 1315.8 2442)" >VV261-10mpk</text>
<text x="1413.1" y="2442" font-size="39.5" font-weight="bold" text-anchor="end" fill="#000" transform="rotate(-45 1413.1 2442)" >T-705-400mpk</text>
<text x="1913.9" y="1823.2" font-size="41.95" font-weight="bold" fill="#000" >Serum</text>
<text x="1610.9" y="2391.3" font-size="36.34" font-weight="bold" fill="#000" transform="rotate(-90 1610.9 2391.3)" >vRNA copies (Log10)</text>
<line x1="1694.1" y1="1967" x2="1694.1" y2="2381.6" stroke="#000" stroke-width="5" />
<line x1="1676.2" y1="2379.4" x2="1694.1" y2="2379.4" stroke="#000" stroke-width="5" />
<text x="1649.7" y="2393.1" font-size="38.5" font-weight="bold" fill="#000" >4</text>
<line x1="1676.2" y1="2297.4" x2="1694.1" y2="2297.4" stroke="#000" stroke-width="5" />
<text x="1650.9" y="2311.1" font-size="38.5" font-weight="bold" fill="#000" >6</text>
<line x1="1676.2" y1="2215.4" x2="1694.1" y2="2215.4" stroke="#000" stroke-width="5" />
<text x="1650.7" y="2229.1" font-size="38.5" font-weight="bold" fill="#000" >8</text>
<line x1="1676.2" y1="2133.5" x2="1694.1" y2="2133.5" stroke="#000" stroke-width="5" />
<text x="1629.7" y="2147.1" font-size="38.5" font-weight="bold" fill="#000" >10</text>
<line x1="1676.2" y1="2051.5" x2="1694.1" y2="2051.5" stroke="#000" stroke-width="5" />
<text x="1629.7" y="2065.1" font-size="38.5" font-weight="bold" fill="#000" >12</text>
<line x1="1676.2" y1="1969.5" x2="1694.1" y2="1969.5" stroke="#000" stroke-width="5" />
<text x="1628.4" y="1983.2" font-size="38.5" font-weight="bold" fill="#000" >14</text>
<line x1="1676.2" y1="2379.4" x2="2266.6" y2="2379.4" stroke="#000" stroke-width="5" />
<rect x="1731" y="2111.5" width="68.6" height="265.5" fill="#93A9D5" stroke="#6A6A6A" stroke-width="2.2" />
<rect x="1837.8" y="2217.8" width="68.6" height="159.2" fill="#DCCDB1" stroke="#6A6A6A" stroke-width="2.2" />
<rect x="1944.5" y="2254.5" width="68.6" height="122.5" fill="#F0EDE7" stroke="#6A6A6A" stroke-width="2.2" />
<rect x="2051.2" y="2318" width="68.6" height="59" fill="#B5D8E3" stroke="#6A6A6A" stroke-width="2.2" />
<rect x="2158" y="2302" width="68.6" height="75" fill="#A8A8AA" stroke="#6A6A6A" stroke-width="2.2" />
<line x1="1765.3" y1="2081.7" x2="1765.3" y2="2137.8" stroke="#555" stroke-width="2.6" />
<line x1="1748.3" y1="2081.7" x2="1782.3" y2="2081.7" stroke="#555" stroke-width="2.6" />
<line x1="1748.3" y1="2137.8" x2="1782.3" y2="2137.8" stroke="#555" stroke-width="2.6" />
<line x1="1765.3" y1="2379.4" x2="1765.3" y2="2397.4" stroke="#000" stroke-width="5" />
<circle cx="1765.3" cy="2070.4" r="9.5" fill="#2E5AAC" stroke="none" stroke-width="0" />
<circle cx="1765.3" cy="2094.2" r="9.5" fill="#2E5AAC" stroke="none" stroke-width="0" />
<circle cx="1765.3" cy="2112.8" r="9.5" fill="#2E5AAC" stroke="none" stroke-width="0" />
<circle cx="1748.9" cy="2138.7" r="9.5" fill="#2E5AAC" stroke="none" stroke-width="0" />
<circle cx="1782.6" cy="2130.9" r="9.5" fill="#2E5AAC" stroke="none" stroke-width="0" />
<line x1="1872" y1="2175.9" x2="1872" y2="2256.7" stroke="#555" stroke-width="2.6" />
<line x1="1855" y1="2175.9" x2="1889" y2="2175.9" stroke="#555" stroke-width="2.6" />
<line x1="1855" y1="2256.7" x2="1889" y2="2256.7" stroke="#555" stroke-width="2.6" />
<line x1="1872" y1="2379.4" x2="1872" y2="2397.4" stroke="#000" stroke-width="5" />
<rect x="1862.5" y="2148.6" width="19" height="19" fill="#C2A574" stroke="none" stroke-width="0" />
<rect x="1846.5" y="2201.4" width="19" height="19" fill="#C2A574" stroke="none" stroke-width="0" />
<rect x="1879.8" y="2194" width="19" height="19" fill="#C2A574" stroke="none" stroke-width="0" />
<rect x="1879.8" y="2238.1" width="19" height="19" fill="#C2A574" stroke="none" stroke-width="0" />
<rect x="1846.5" y="2251.1" width="19" height="19" fill="#C2A574" stroke="none" stroke-width="0" />
<line x1="1978.8" y1="2214.3" x2="1978.8" y2="2292.1" stroke="#555" stroke-width="2.6" />
<line x1="1961.8" y1="2214.3" x2="1995.8" y2="2214.3" stroke="#555" stroke-width="2.6" />
<line x1="1961.8" y1="2292.1" x2="1995.8" y2="2292.1" stroke="#555" stroke-width="2.6" />
<line x1="1978.8" y1="2379.4" x2="1978.8" y2="2397.4" stroke="#000" stroke-width="5" />
<polygon points="1968.4,2199.5 1979.4,2218.5 1957.4,2218.5" fill="#E3E0D6" stroke="none" stroke-width="0" />
<polygon points="1992.2,2201.7 2003.2,2220.7 1981.2,2220.7" fill="#E3E0D6" stroke="none" stroke-width="0" />
<polygon points="1953.3,2273 1964.3,2292 1942.3,2292" fill="#E3E0D6" stroke="none" stroke-width="0" />
<polygon points="1978.3,2270 1989.3,2289 1967.3,2289" fill="#E3E0D6" stroke="none" stroke-width="0" />
<polygon points="2007.3,2271.7 2018.3,2290.7 1996.3,2290.7" fill="#E3E0D6" stroke="none" stroke-width="0" />
<line x1="2085.6" y1="2298.6" x2="2085.6" y2="2335.4" stroke="#555" stroke-width="2.6" />
<line x1="2068.6" y1="2298.6" x2="2102.6" y2="2298.6" stroke="#555" stroke-width="2.6" />
<line x1="2068.6" y1="2335.4" x2="2102.6" y2="2335.4" stroke="#555" stroke-width="2.6" />
<line x1="2085.6" y1="2379.4" x2="2085.6" y2="2397.4" stroke="#000" stroke-width="5" />
<polygon points="2085.1,2302.6 2096.1,2283.6 2074.1,2283.6" fill="#6EB1CF" stroke="none" stroke-width="0" />
<polygon points="2069.1,2324.2 2080.1,2305.2 2058.1,2305.2" fill="#6EB1CF" stroke="none" stroke-width="0" />
<polygon points="2102.4,2326.4 2113.4,2307.4 2091.4,2307.4" fill="#6EB1CF" stroke="none" stroke-width="0" />
<polygon points="2086,2352.3 2097,2333.3 2075,2333.3" fill="#6EB1CF" stroke="none" stroke-width="0" />
<line x1="2192.3" y1="2294.3" x2="2192.3" y2="2308" stroke="#555" stroke-width="2.6" />
<line x1="2175.3" y1="2294.3" x2="2209.3" y2="2294.3" stroke="#555" stroke-width="2.6" />
<line x1="2175.3" y1="2308" x2="2209.3" y2="2308" stroke="#555" stroke-width="2.6" />
<line x1="2192.3" y1="2379.4" x2="2192.3" y2="2397.4" stroke="#000" stroke-width="5" />
<polygon points="2165,2279.2 2174.9,2289.1 2165,2299 2155.1,2289.1" fill="#4B4E53" stroke="none" stroke-width="0" />
<polygon points="2165,2298.2 2174.9,2308.1 2165,2318 2155.1,2308.1" fill="#4B4E53" stroke="none" stroke-width="0" />
<polygon points="2182.3,2290.9 2192.2,2300.8 2182.3,2310.7 2172.4,2300.8" fill="#4B4E53" stroke="none" stroke-width="0" />
<polygon points="2201.8,2298.2 2211.7,2308.1 2201.8,2318 2191.9,2308.1" fill="#4B4E53" stroke="none" stroke-width="0" />
<polygon points="2219,2290.9 2228.9,2300.8 2219,2310.7 2209.1,2300.8" fill="#4B4E53" stroke="none" stroke-width="0" />
<polyline points="1765.3,2047.1 1765.3,2022.9 1872,2022.9 1872,2132.2" fill="none" stroke="#000" stroke-width="4.5" stroke-linejoin="miter" stroke-linecap="butt"/>
<path d="M1801.8,2005.2L1801.8,2016.6M1796.8,2008.1L1806.7,2013.8M1806.7,2008.1L1796.8,2013.8M1817.7,2005.2L1817.7,2016.6M1812.7,2008.1L1822.6,2013.8M1822.6,2008.1L1812.7,2013.8M1833.6,2005.2L1833.6,2016.6M1828.6,2008.1L1838.5,2013.8M1838.5,2008.1L1828.6,2013.8" stroke="#000" stroke-width="2.3" fill="none"/>
<polyline points="1765.3,2013.4 1765.3,1979.7 1978.8,1979.7 1978.8,2179.8" fill="none" stroke="#000" stroke-width="4.5" stroke-linejoin="miter" stroke-linecap="butt"/>
<path d="M1847.2,1962L1847.2,1973.4M1842.3,1964.9L1852.1,1970.5M1852.1,1964.9L1842.3,1970.5M1863.1,1962L1863.1,1973.4M1858.2,1964.9L1868,1970.5M1868,1964.9L1858.2,1970.5M1879,1962L1879,1973.4M1874.1,1964.9L1883.9,1970.5M1883.9,1964.9L1874.1,1970.5M1894.9,1962L1894.9,1973.4M1890,1964.9L1899.8,1970.5M1899.8,1964.9L1890,1970.5" stroke="#000" stroke-width="2.3" fill="none"/>
<polyline points="1765.3,1969.3 1765.3,1932.1 2085.6,1932.1 2085.6,2260.6" fill="none" stroke="#000" stroke-width="4.5" stroke-linejoin="miter" stroke-linecap="butt"/>
<path d="M1900.6,1914.4L1900.6,1925.8M1895.6,1917.2L1905.5,1922.9M1905.5,1917.2L1895.6,1922.9M1916.5,1914.4L1916.5,1925.8M1911.5,1917.2L1921.4,1922.9M1921.4,1917.2L1911.5,1922.9M1932.4,1914.4L1932.4,1925.8M1927.4,1917.2L1937.3,1922.9M1937.3,1917.2L1927.4,1922.9M1948.3,1914.4L1948.3,1925.8M1943.3,1917.2L1953.2,1922.9M1953.2,1917.2L1943.3,1922.9" stroke="#000" stroke-width="2.3" fill="none"/>
<polyline points="1765.3,1920.5 1765.3,1884.6 2192.3,1884.6 2192.3,2263.2" fill="none" stroke="#000" stroke-width="4.5" stroke-linejoin="miter" stroke-linecap="butt"/>
<path d="M1954,1866.9L1954,1878.3M1949,1869.8L1958.9,1875.4M1958.9,1869.8L1949,1875.4M1969.9,1866.9L1969.9,1878.3M1964.9,1869.8L1974.8,1875.4M1974.8,1869.8L1964.9,1875.4M1985.8,1866.9L1985.8,1878.3M1980.8,1869.8L1990.7,1875.4M1990.7,1869.8L1980.8,1875.4M2001.7,1866.9L2001.7,1878.3M1996.7,1869.8L2006.6,1875.4M2006.6,1869.8L1996.7,1875.4" stroke="#000" stroke-width="2.3" fill="none"/>
<text x="1777.3" y="2432.5" font-size="40.4" font-weight="bold" text-anchor="end" fill="#000" transform="rotate(-45 1777.3 2432.5)" >Vehicle</text>
<text x="1884" y="2432.5" font-size="40.4" font-weight="bold" text-anchor="end" fill="#000" transform="rotate(-45 1884 2432.5)" >VV261-2.5 mpk</text>
<text x="1990.8" y="2432.5" font-size="40.4" font-weight="bold" text-anchor="end" fill="#000" transform="rotate(-45 1990.8 2432.5)" >VV261-5 mpk</text>
<text x="2097.6" y="2432.5" font-size="40.4" font-weight="bold" text-anchor="end" fill="#000" transform="rotate(-45 2097.6 2432.5)" >VV261-10 mpk</text>
<text x="2204.3" y="2432.5" font-size="40.4" font-weight="bold" text-anchor="end" fill="#000" transform="rotate(-45 2204.3 2432.5)" >T-705-400 mpk</text>
</svg>
</body></html>
